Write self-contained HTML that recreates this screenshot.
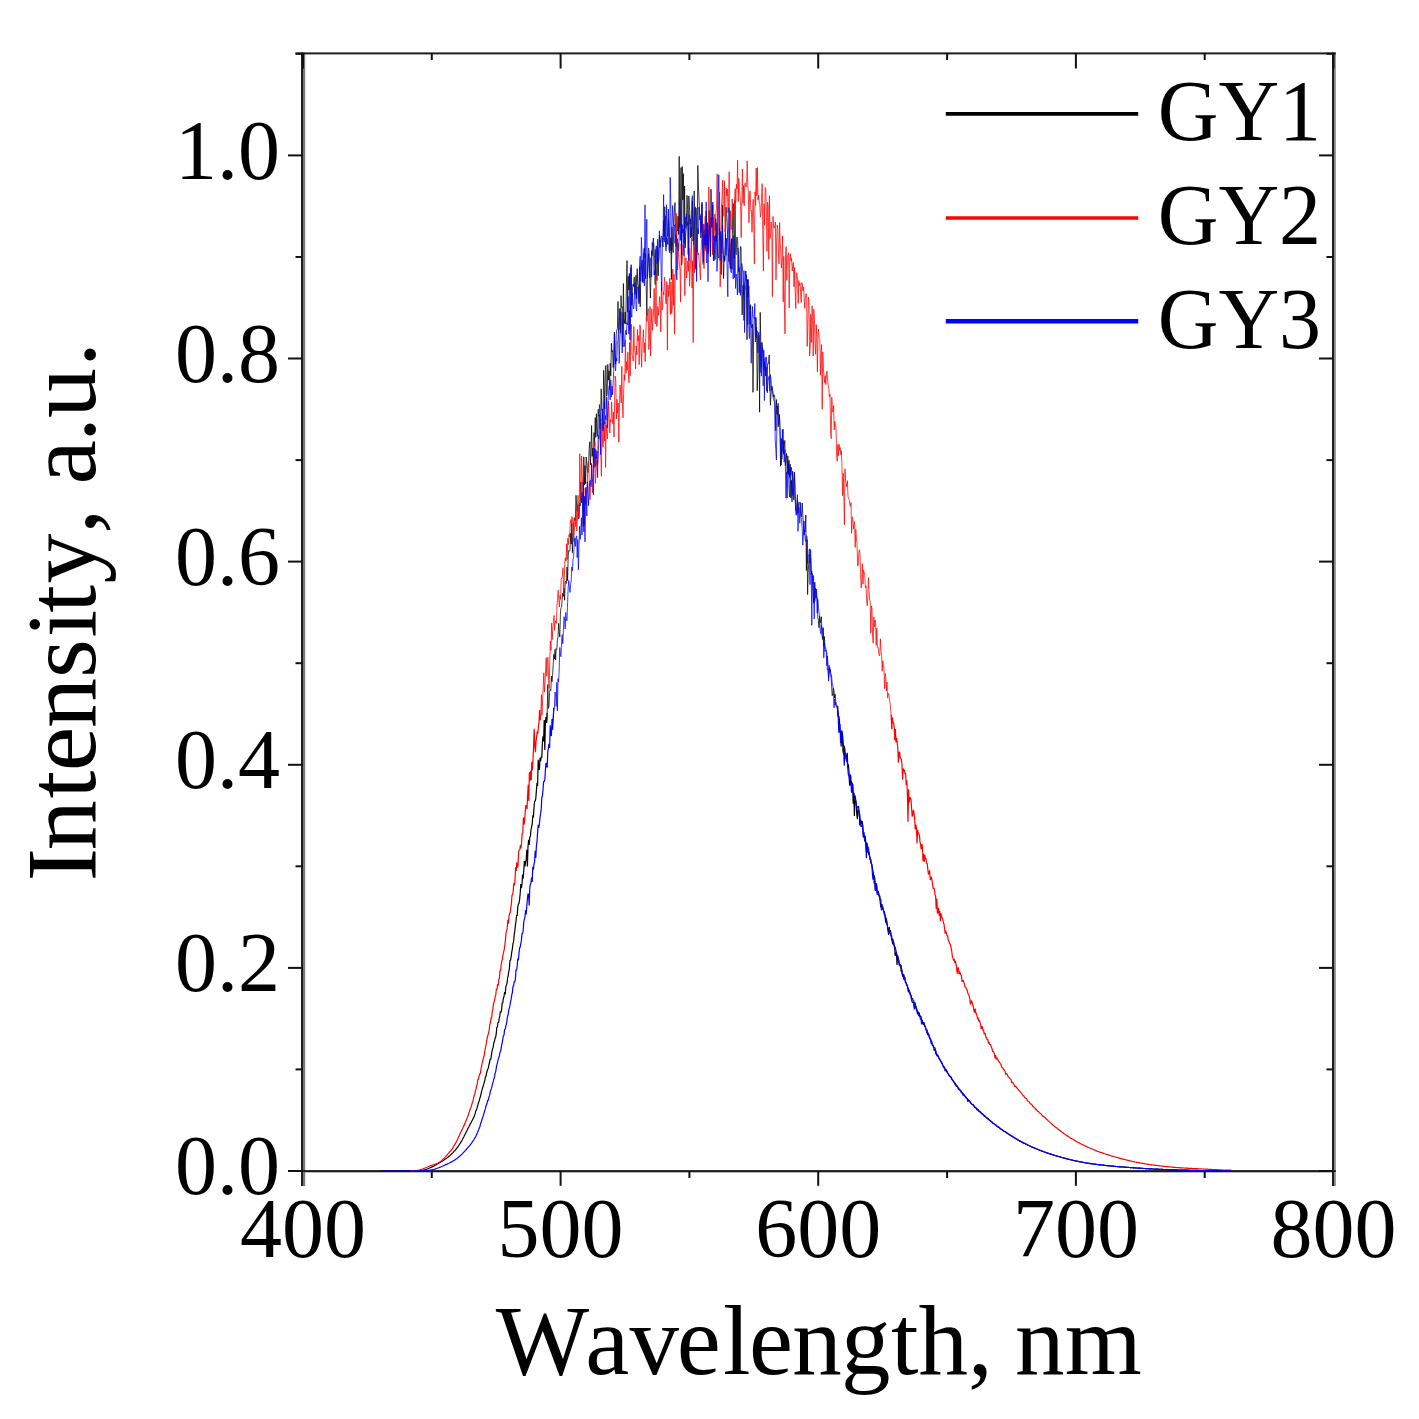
<!DOCTYPE html>
<html><head><meta charset="utf-8"><style>
html,body{margin:0;padding:0;background:#fff;width:1419px;height:1419px;overflow:hidden}
svg{display:block}
text{font-family:"Liberation Serif", serif;fill:#000}
</style></head><body>
<svg width="1419" height="1419" viewBox="0 0 1419 1419">
<rect width="1419" height="1419" fill="#fff"/>
<rect x="305" y="1172" width="1027" height="1" fill="#bbb"/>
<rect x="301" y="52.5" width="2" height="1133.5" fill="#1e1e1e"/>
<rect x="303" y="52.5" width="2.2" height="1133.5" fill="#777"/>
<rect x="1332" y="52.5" width="2" height="1133.5" fill="#1e1e1e"/>
<rect x="1334" y="52.5" width="1.8" height="1133.5" fill="#888"/>
<rect x="295.5" y="52.4" width="1040.3" height="2" fill="#1e1e1e"/>
<rect x="288" y="1170.1" width="1047.8" height="1.9" fill="#1a1a1a"/>
<g>
<line x1="288" y1="1171.0" x2="303" y2="1171.0" stroke="#111" stroke-width="2"/><line x1="1319" y1="1171.0" x2="1333" y2="1171.0" stroke="#111" stroke-width="2"/><line x1="295.5" y1="1069.4" x2="303" y2="1069.4" stroke="#111" stroke-width="2"/><line x1="1326.5" y1="1069.4" x2="1333" y2="1069.4" stroke="#111" stroke-width="2"/><line x1="288" y1="967.9" x2="303" y2="967.9" stroke="#111" stroke-width="2"/><line x1="1319" y1="967.9" x2="1333" y2="967.9" stroke="#111" stroke-width="2"/><line x1="295.5" y1="866.3" x2="303" y2="866.3" stroke="#111" stroke-width="2"/><line x1="1326.5" y1="866.3" x2="1333" y2="866.3" stroke="#111" stroke-width="2"/><line x1="288" y1="764.8" x2="303" y2="764.8" stroke="#111" stroke-width="2"/><line x1="1319" y1="764.8" x2="1333" y2="764.8" stroke="#111" stroke-width="2"/><line x1="295.5" y1="663.2" x2="303" y2="663.2" stroke="#111" stroke-width="2"/><line x1="1326.5" y1="663.2" x2="1333" y2="663.2" stroke="#111" stroke-width="2"/><line x1="288" y1="561.6" x2="303" y2="561.6" stroke="#111" stroke-width="2"/><line x1="1319" y1="561.6" x2="1333" y2="561.6" stroke="#111" stroke-width="2"/><line x1="295.5" y1="460.1" x2="303" y2="460.1" stroke="#111" stroke-width="2"/><line x1="1326.5" y1="460.1" x2="1333" y2="460.1" stroke="#111" stroke-width="2"/><line x1="288" y1="358.5" x2="303" y2="358.5" stroke="#111" stroke-width="2"/><line x1="1319" y1="358.5" x2="1333" y2="358.5" stroke="#111" stroke-width="2"/><line x1="295.5" y1="257.0" x2="303" y2="257.0" stroke="#111" stroke-width="2"/><line x1="1326.5" y1="257.0" x2="1333" y2="257.0" stroke="#111" stroke-width="2"/><line x1="288" y1="155.4" x2="303" y2="155.4" stroke="#111" stroke-width="2"/><line x1="1319" y1="155.4" x2="1333" y2="155.4" stroke="#111" stroke-width="2"/><line x1="295.5" y1="53.8" x2="303" y2="53.8" stroke="#111" stroke-width="2"/><line x1="1326.5" y1="53.8" x2="1333" y2="53.8" stroke="#111" stroke-width="2"/><line x1="303.0" y1="53" x2="303.0" y2="68.5" stroke="#111" stroke-width="2"/><line x1="431.8" y1="1171" x2="431.8" y2="1178" stroke="#111" stroke-width="2"/><line x1="431.8" y1="53" x2="431.8" y2="60" stroke="#111" stroke-width="2"/><line x1="560.6" y1="1171" x2="560.6" y2="1185.8" stroke="#111" stroke-width="2"/><line x1="560.6" y1="53" x2="560.6" y2="68.5" stroke="#111" stroke-width="2"/><line x1="689.4" y1="1171" x2="689.4" y2="1178" stroke="#111" stroke-width="2"/><line x1="689.4" y1="53" x2="689.4" y2="60" stroke="#111" stroke-width="2"/><line x1="818.2" y1="1171" x2="818.2" y2="1185.8" stroke="#111" stroke-width="2"/><line x1="818.2" y1="53" x2="818.2" y2="68.5" stroke="#111" stroke-width="2"/><line x1="947.1" y1="1171" x2="947.1" y2="1178" stroke="#111" stroke-width="2"/><line x1="947.1" y1="53" x2="947.1" y2="60" stroke="#111" stroke-width="2"/><line x1="1075.9" y1="1171" x2="1075.9" y2="1185.8" stroke="#111" stroke-width="2"/><line x1="1075.9" y1="53" x2="1075.9" y2="68.5" stroke="#111" stroke-width="2"/><line x1="1204.7" y1="1171" x2="1204.7" y2="1178" stroke="#111" stroke-width="2"/><line x1="1204.7" y1="53" x2="1204.7" y2="60" stroke="#111" stroke-width="2"/><line x1="1333.5" y1="53" x2="1333.5" y2="68.5" stroke="#111" stroke-width="2"/>
</g>
<g fill="none" stroke-linejoin="bevel">
<polyline points="381.0,1171.0 381.6,1171.0 382.2,1171.0 382.8,1171.0 383.4,1171.0 384.0,1171.0 384.6,1171.0 385.2,1171.0 385.8,1171.0 386.4,1171.0 387.0,1171.0 387.6,1171.0 388.2,1171.0 388.8,1171.0 389.4,1171.0 390.0,1171.0 390.6,1171.0 391.2,1171.0 391.8,1171.0 392.4,1171.0 393.0,1171.0 393.6,1171.0 394.2,1171.0 394.8,1171.0 395.4,1171.0 396.0,1171.0 396.6,1171.0 397.2,1171.0 397.8,1171.0 398.4,1171.0 399.0,1171.0 399.6,1171.0 400.2,1171.0 400.8,1171.0 401.4,1171.0 402.0,1171.0 402.6,1171.0 403.2,1171.0 403.8,1171.0 404.4,1171.0 405.0,1171.0 405.6,1171.0 406.2,1171.0 406.8,1171.0 407.4,1171.0 408.0,1171.0 408.6,1171.0 409.2,1171.0 409.8,1171.0 410.4,1170.9 411.0,1170.9 411.6,1170.9 412.2,1170.9 412.8,1170.9 413.4,1170.9 414.0,1170.9 414.6,1170.9 415.2,1170.9 415.8,1170.9 416.4,1170.9 417.0,1170.9 417.6,1170.9 418.2,1170.8 418.8,1170.8 419.4,1170.8 420.0,1170.7 420.6,1170.7 421.2,1170.6 421.8,1170.5 422.4,1170.4 423.0,1170.3 423.6,1170.1 424.2,1170.0 424.8,1169.8 425.4,1169.6 426.0,1169.4 426.6,1169.2 427.2,1169.0 427.8,1168.8 428.4,1168.6 429.0,1168.3 429.6,1168.0 430.2,1167.8 430.8,1167.5 431.4,1167.2 432.0,1166.9 432.6,1166.6 433.2,1166.3 433.8,1166.0 434.4,1165.6 435.0,1165.3 435.6,1165.0 436.2,1164.6 436.8,1164.3 437.4,1163.9 438.0,1163.6 438.6,1163.2 439.2,1162.9 439.8,1162.5 440.4,1162.2 441.0,1161.8 441.6,1161.5 442.2,1161.1 442.8,1160.8 443.4,1160.4 444.0,1160.0 444.6,1159.6 445.2,1159.2 445.8,1158.8 446.4,1158.4 447.0,1157.9 447.6,1157.5 448.2,1157.0 448.8,1156.5 449.4,1156.0 450.0,1155.5 450.6,1154.9 451.2,1154.4 451.8,1153.7 452.4,1153.2 453.0,1152.6 453.6,1151.8 454.2,1151.1 454.8,1150.7 455.4,1150.1 456.0,1149.1 456.6,1148.3 457.2,1147.7 457.8,1146.8 458.4,1146.0 459.0,1145.1 459.6,1144.3 460.2,1143.3 460.8,1142.4 461.4,1141.4 462.0,1140.2 462.6,1139.2 463.2,1138.0 463.8,1137.0 464.4,1135.6 465.0,1134.4 465.6,1133.5 466.2,1132.1 466.8,1130.8 467.4,1129.7 468.0,1128.3 468.6,1127.2 469.2,1126.2 469.8,1125.1 470.4,1123.4 471.0,1123.0 471.6,1121.6 472.2,1120.4 472.8,1119.2 473.4,1118.0 474.0,1117.2 474.6,1114.9 475.2,1113.7 475.8,1110.6 476.4,1110.0 477.0,1108.4 477.6,1105.9 478.2,1103.7 478.8,1101.9 479.4,1100.2 480.0,1097.7 480.6,1096.1 481.2,1093.2 481.8,1090.7 482.4,1088.7 483.0,1086.6 483.6,1084.7 484.2,1082.4 484.8,1080.3 485.4,1077.0 486.0,1076.3 486.6,1073.2 487.2,1070.5 487.8,1069.4 488.4,1067.6 489.0,1064.7 489.6,1062.0 490.2,1058.8 490.8,1059.5 491.4,1055.4 492.0,1051.2 492.6,1048.9 493.2,1047.1 493.8,1042.9 494.4,1041.8 495.0,1038.4 495.6,1037.3 496.2,1034.2 496.8,1027.1 497.4,1027.2 498.0,1022.3 498.6,1022.7 499.2,1018.6 499.8,1016.2 500.4,1011.2 501.0,1012.4 501.6,1010.0 502.2,1002.9 502.8,1003.0 503.4,998.2 504.0,996.6 504.6,992.0 505.2,994.4 505.8,986.9 506.4,985.1 507.0,983.5 507.6,978.2 508.2,975.6 508.8,971.5 509.4,968.3 510.0,960.3 510.6,960.1 511.2,956.4 511.8,951.9 512.4,948.5 513.0,943.4 513.6,941.6 514.2,934.7 514.8,930.9 515.4,925.2 516.0,921.4 516.6,915.1 517.2,915.9 517.8,907.1 518.4,904.1 519.0,903.4 519.6,899.6 520.2,893.2 520.8,884.1 521.4,888.1 522.0,883.9 522.6,874.6 523.2,878.5 523.8,869.9 524.4,861.0 525.0,866.4 525.6,861.8 526.2,859.9 526.8,849.8 527.4,866.6 528.0,846.9 528.6,839.8 529.2,844.9 529.8,837.3 530.4,836.4 531.0,829.7 531.6,826.8 532.2,824.0 532.8,815.3 533.4,817.4 534.0,807.7 534.6,801.2 535.2,801.2 535.8,798.5 536.4,790.6 537.0,782.9 537.6,786.1 538.2,759.8 538.8,768.5 539.4,770.0 540.0,757.9 540.6,761.3 541.2,756.6 541.8,757.8 542.4,742.8 543.0,736.4 543.6,741.5 544.2,719.9 544.8,750.1 545.4,721.7 546.0,717.0 546.6,723.0 547.2,712.7" stroke="#000" stroke-width="1.2"/>
<polyline points="546.6,723.0 547.2,712.7 547.8,684.5 548.4,708.5 549.0,705.9 549.6,692.5 550.2,689.4 550.8,690.6 551.4,676.1 552.0,681.7 552.6,675.6 553.2,664.5 553.8,654.4 554.4,659.0 555.0,649.4 555.6,659.9 556.2,648.6 556.8,649.5 557.4,639.9 558.0,636.6 558.6,623.4 559.2,631.5 559.8,637.1 560.4,614.3 561.0,607.4 561.6,606.9 562.2,599.5 562.8,593.0 563.4,596.4 564.0,588.0 564.6,600.2 565.2,582.2 565.8,581.2 566.4,583.4 567.0,567.0 567.6,580.7 568.2,556.0 568.8,550.4 569.4,551.3 570.0,550.3 570.6,533.2 571.2,544.1 571.8,523.2 572.4,552.8 573.0,533.5 573.6,524.1 574.2,517.9 574.8,520.6 575.4,519.4 576.0,495.3 576.6,505.7 577.2,511.2 577.8,504.7 578.4,518.9 579.0,518.7 579.6,503.0 580.2,505.9 580.8,481.9 581.4,502.8 582.0,492.3 582.6,495.9 583.2,526.3 583.8,456.8 584.4,485.1 585.0,465.6 585.6,483.7 586.2,457.0 586.8,464.4 587.4,470.3 588.0,472.6 588.6,462.9 589.2,448.8 589.8,441.8 590.4,464.9 591.0,450.5 591.6,425.5 592.2,456.3 592.8,448.0 593.4,463.3 594.0,432.6 594.6,445.9 595.2,417.6 595.8,437.4 596.4,413.6 597.0,433.9 597.6,436.1 598.2,409.2 598.8,416.2 599.4,414.9 600.0,428.7 600.6,419.2 601.2,388.8 601.8,410.2 602.4,411.6 603.0,429.0 603.6,370.4 604.2,384.3 604.8,409.1 605.4,366.1 606.0,365.4 606.6,396.1 607.2,393.0 607.8,364.4 608.4,380.1 609.0,370.7 609.6,389.6 610.2,363.1 610.8,375.9 611.4,343.3 612.0,351.8 612.6,350.5 613.2,367.6 613.8,356.0 614.4,332.0 615.0,352.7 615.6,364.2 616.2,334.8 616.8,330.0 617.4,328.7 618.0,301.5 618.6,330.5 619.2,329.1 619.8,308.5 620.4,333.4 621.0,295.6 621.6,307.5 622.2,306.7 622.8,346.8 623.4,283.5 624.0,318.7 624.6,323.5 625.2,312.0 625.8,324.2 626.4,284.5 627.0,260.5 627.6,312.2 628.2,276.2 628.8,290.0 629.4,273.5 630.0,330.1 630.6,306.9 631.2,264.7 631.8,305.1 632.4,290.0 633.0,284.2 633.6,286.6 634.2,277.2 634.8,294.5 635.4,288.1 636.0,275.2 636.6,298.7 637.2,268.6 637.8,283.9 638.4,285.5 639.0,303.8 639.6,266.8 640.2,306.9 640.8,277.5 641.4,269.8 642.0,260.1 642.6,282.3 643.2,271.5 643.8,249.4 644.4,247.9 645.0,257.5 645.6,254.2 646.2,285.9 646.8,315.7 647.4,279.7 648.0,269.2 648.6,253.5 649.2,261.4 649.8,275.8 650.4,298.1 651.0,274.2 651.6,250.7 652.2,255.6 652.8,244.7 653.4,238.0 654.0,248.2 654.6,258.1 655.2,284.6 655.8,249.7 656.4,273.6 657.0,280.6 657.6,247.4 658.2,275.8 658.8,257.8 659.4,235.2 660.0,247.5 660.6,242.0 661.2,236.3 661.8,236.2 662.4,242.0 663.0,246.9 663.6,220.6 664.2,236.8 664.8,206.7 665.4,240.7 666.0,247.1 666.6,237.5 667.2,239.2 667.8,244.5 668.4,219.4 669.0,227.1 669.6,251.2 670.2,250.2 670.8,237.7 671.4,279.5 672.0,227.0 672.6,247.9 673.2,252.6 673.8,224.5 674.4,210.4 675.0,202.7 675.6,228.8 676.2,247.0 676.8,230.0 677.4,231.0 678.0,216.2 678.6,234.4 679.2,156.3 679.8,227.2 680.4,222.9 681.0,167.6 681.6,265.1 682.2,166.5 682.8,200.1 683.4,173.7 684.0,243.4 684.6,186.0 685.2,247.9 685.8,233.0 686.4,226.5 687.0,195.3 687.6,209.2 688.2,254.8 688.8,195.9 689.4,205.1 690.0,218.5 690.6,237.9 691.2,227.0 691.8,236.8 692.4,201.0 693.0,241.1 693.6,233.8 694.2,191.0 694.8,253.4 695.4,268.5 696.0,208.0 696.6,225.7 697.2,251.5 697.8,165.4 698.4,185.0 699.0,199.0 699.6,213.8 700.2,214.0 700.8,237.8 701.4,231.6 702.0,202.1 702.6,238.3 703.2,264.5 703.8,251.6 704.4,248.0 705.0,229.4 705.6,248.8 706.2,211.0 706.8,245.1 707.4,229.1 708.0,253.4 708.6,240.8 709.2,210.8 709.8,235.0 710.4,256.7 711.0,189.2 711.6,222.7 712.2,219.0 712.8,205.2 713.4,253.5 714.0,260.6 714.6,251.0 715.2,240.6 715.8,235.2 716.4,241.2 717.0,222.8 717.6,254.7 718.2,258.1 718.8,256.3 719.4,228.4 720.0,240.6 720.6,236.4 721.2,274.6 721.8,244.1 722.4,204.9 723.0,257.1 723.6,278.5 724.2,256.1 724.8,260.5 725.4,244.9 726.0,207.1 726.6,211.0 727.2,222.5 727.8,244.7 728.4,253.8 729.0,261.8 729.6,243.0 730.2,268.5 730.8,246.0 731.4,238.8 732.0,269.2 732.6,219.6 733.2,203.7 733.8,236.2 734.4,259.0 735.0,200.6 735.6,252.9 736.2,254.7 736.8,236.9 737.4,237.8 738.0,249.1 738.6,257.0 739.2,292.6 739.8,276.4 740.4,246.5 741.0,246.9 741.6,288.2 742.2,314.9 742.8,285.2 743.4,285.5 744.0,320.5 744.6,282.6 745.2,281.4 745.8,271.0 746.4,283.8 747.0,339.7 747.6,279.6 748.2,296.9 748.8,285.8 749.4,304.5 750.0,324.2 750.6,304.6 751.2,325.6 751.8,327.8 752.4,324.1 753.0,392.3 753.6,336.0 754.2,318.6 754.8,317.7 755.4,318.5 756.0,338.0 756.6,327.2 757.2,390.7 757.8,373.6 758.4,334.6 759.0,335.8 759.6,412.2 760.2,312.4 760.8,341.5 761.4,367.3 762.0,342.5 762.6,348.3 763.2,351.6 763.8,370.3 764.4,361.9 765.0,369.7 765.6,376.0 766.2,367.0 766.8,391.2 767.4,365.9 768.0,363.2 768.6,363.3 769.2,355.0 769.8,378.2 770.4,405.2 771.0,394.8 771.6,386.6 772.2,386.1 772.8,393.1 773.4,397.0 774.0,394.7 774.6,395.6 775.2,405.5 775.8,430.7 776.4,399.5 777.0,414.4 777.6,405.8 778.2,426.7 778.8,421.0 779.4,414.6 780.0,433.3 780.6,466.2 781.2,438.4 781.8,459.2 782.4,440.8 783.0,429.1 783.6,454.2 784.2,445.2 784.8,440.5 785.4,465.7 786.0,459.4 786.6,453.4 787.2,473.6 787.8,455.8 788.4,474.5 789.0,460.2 789.6,477.4 790.2,464.2 790.8,497.8 791.4,480.3 792.0,501.8 792.6,471.2 793.2,481.0 793.8,499.8 794.4,472.5 795.0,485.3 795.6,510.4 796.2,511.3 796.8,514.5 797.4,500.2 798.0,513.2 798.6,503.0 799.2,501.9 799.8,502.6 800.4,511.8 801.0,514.5 801.6,516.7 802.2,503.0 802.8,514.4 803.4,525.3 804.0,535.1 804.6,530.6 805.2,531.8 805.8,515.1 806.4,570.5 807.0,539.4 807.6,594.5 808.2,572.6 808.8,561.9 809.4,554.7 810.0,562.7 810.6,558.4 811.2,574.4 811.8,571.0 812.4,581.2 813.0,590.0 813.6,603.2 814.2,582.9 814.8,601.3 815.4,588.1 816.0,591.1 816.6,596.0 817.2,597.8 817.8,617.5 818.4,620.2 819.0,627.7 819.6,616.2 820.2,622.9 820.8,620.7 821.4,616.8 822.0,635.1 822.6,639.5 823.2,627.7 823.8,646.7 824.4,636.5 825.0,646.3 825.6,647.8 826.2,651.5 826.8,652.5 827.4,669.8 828.0,668.9 828.6,678.2 829.2,670.7 829.8,667.5 830.4,674.0 831.0,674.0 831.6,685.7 832.2,695.7 832.8,693.2 833.4,688.1 834.0,690.5 834.6,698.0 835.2,694.2 835.8,703.6 836.4,707.2 837.0,706.9 837.6,710.6 838.2,716.7" stroke="#000" stroke-width="0.75"/>
<polyline points="837.6,710.6 838.2,716.7 838.8,716.1 839.4,719.6 840.0,732.2 840.6,731.1 841.2,746.5 841.8,730.4 842.4,734.7 843.0,750.8 843.6,754.3 844.2,745.9 844.8,749.2 845.4,756.4 846.0,754.5 846.6,761.3 847.2,752.8 847.8,767.0 848.4,764.4 849.0,772.1 849.6,785.6 850.2,777.0 850.8,785.4 851.4,781.1 852.0,783.0 852.6,784.1 853.2,803.7 853.8,792.9 854.4,816.1 855.0,795.4 855.6,799.7 856.2,803.7 856.8,814.4 857.4,819.3 858.0,809.3 858.6,810.6 859.2,811.6 859.8,825.5 860.4,819.9 861.0,820.9 861.6,824.4 862.2,821.2 862.8,825.3 863.4,836.2 864.0,835.4 864.6,836.3 865.2,835.9 865.8,843.3 866.4,851.9 867.0,842.8 867.6,847.7 868.2,849.4 868.8,854.5 869.4,855.4 870.0,857.8 870.6,859.0 871.2,863.3 871.8,864.8 872.4,868.3 873.0,871.1 873.6,876.6 874.2,875.3 874.8,878.3 875.4,890.3 876.0,883.0 876.6,885.9 877.2,892.2 877.8,892.0 878.4,893.6 879.0,896.4 879.6,896.0 880.2,901.8 880.8,907.3 881.4,906.4 882.0,904.1 882.6,909.4 883.2,909.1 883.8,912.0 884.4,914.6 885.0,914.5 885.6,922.6 886.2,919.7 886.8,924.3 887.4,925.6 888.0,929.8 888.6,935.0 889.2,927.1 889.8,931.0 890.4,930.1 891.0,934.1 891.6,938.8 892.2,941.3 892.8,944.4 893.4,942.0 894.0,945.3 894.6,946.6 895.2,955.7 895.8,954.9 896.4,952.0 897.0,965.0 897.6,956.3 898.2,957.9 898.8,961.8 899.4,964.2 900.0,965.5 900.6,965.4 901.2,971.6 901.8,969.9 902.4,975.4 903.0,976.9 903.6,974.1 904.2,976.2 904.8,978.0 905.4,981.2 906.0,982.4 906.6,984.6 907.2,985.1 907.8,988.3 908.4,992.1 909.0,989.6 909.6,992.1 910.2,994.8 910.8,995.2 911.4,996.6 912.0,1001.8 912.6,1002.2 913.2,1002.7 913.8,1001.9 914.4,1008.1 915.0,1006.5 915.6,1006.0 916.2,1007.5 916.8,1008.7 917.4,1014.1 918.0,1012.0 918.6,1013.0 919.2,1012.7 919.8,1016.7 920.4,1016.0 921.0,1016.5 921.6,1020.3 922.2,1020.0 922.8,1023.2 923.4,1024.9 924.0,1022.3 924.6,1025.7 925.2,1026.1 925.8,1028.3 926.4,1031.1 927.0,1029.5 927.6,1035.0 928.2,1033.7 928.8,1034.6 929.4,1036.6 930.0,1039.2 930.6,1038.8 931.2,1041.0 931.8,1041.8 932.4,1045.4 933.0,1045.5 933.6,1046.5 934.2,1050.6 934.8,1048.9 935.4,1050.7 936.0,1054.3 936.6,1053.3 937.2,1056.1 937.8,1056.1 938.4,1056.7 939.0,1058.1 939.6,1059.3 940.2,1060.2 940.8,1061.1 941.4,1062.2 942.0,1062.9 942.6,1064.7 943.2,1065.8 943.8,1067.2 944.4,1066.8 945.0,1069.1 945.6,1069.3 946.2,1069.8 946.8,1071.3 947.4,1072.8 948.0,1073.5 948.6,1074.6 949.2,1075.7 949.8,1076.5 950.4,1076.7 951.0,1076.9 951.6,1078.2 952.2,1079.6 952.8,1080.1 953.4,1081.6 954.0,1082.5 954.6,1082.8 955.2,1085.0 955.8,1083.9 956.4,1086.6 957.0,1086.0 957.6,1086.7 958.2,1088.1 958.8,1088.2 959.4,1089.8 960.0,1089.7 960.6,1090.8 961.2,1091.3 961.8,1092.2 962.4,1092.9 963.0,1093.5 963.6,1094.9 964.2,1094.9 964.8,1095.7 965.4,1097.1 966.0,1097.8 966.6,1098.3 967.2,1098.8 967.8,1101.7 968.4,1099.7 969.0,1100.5 969.6,1101.1 970.2,1102.4 970.8,1102.7 971.4,1103.8 972.0,1104.3 972.6,1104.5 973.2,1104.8 973.8,1105.6 974.4,1107.4 975.0,1107.4 975.6,1107.8 976.2,1108.1 976.8,1108.7 977.4,1109.3 978.0,1109.9 978.6,1110.1 979.2,1111.1 979.8,1111.6 980.4,1112.3 981.0,1112.8 981.6,1113.6 982.2,1113.8 982.8,1114.7 983.4,1114.5 984.0,1115.3 984.6,1116.6 985.2,1116.2 985.8,1117.0 986.4,1117.8 987.0,1117.8 987.6,1118.8 988.2,1118.7 988.8,1119.3 989.4,1119.9 990.0,1120.3 990.6,1121.0 991.2,1121.5 991.8,1122.1 992.4,1122.3 993.0,1123.7 993.6,1123.4 994.2,1123.9 994.8,1124.5 995.4,1124.8 996.0,1125.2 996.6,1125.7 997.2,1126.6 997.8,1126.8 998.4,1127.3 999.0,1127.4 999.6,1127.9 1000.2,1128.9 1000.8,1128.8 1001.4,1129.4 1002.0,1129.8 1002.6,1130.4 1003.2,1130.4 1003.8,1130.9 1004.4,1131.3 1005.0,1131.7 1005.6,1131.9 1006.2,1132.5 1006.8,1132.7 1007.4,1133.4 1008.0,1133.9 1008.6,1134.2 1009.2,1134.4 1009.8,1135.1 1010.4,1135.1 1011.0,1135.6 1011.6,1136.0 1012.2,1136.3 1012.8,1136.8 1013.4,1137.3 1014.0,1137.4 1014.6,1137.8 1015.2,1138.4 1015.8,1138.6 1016.4,1139.0 1017.0,1139.2 1017.6,1139.9 1018.2,1139.9 1018.8,1140.3 1019.4,1140.8 1020.0,1141.5 1020.6,1141.4 1021.2,1141.7 1021.8,1141.9 1022.4,1142.2 1023.0,1142.7 1023.6,1142.9 1024.2,1143.2 1024.8,1143.4 1025.4,1143.8 1026.0,1144.3 1026.6,1144.4 1027.2,1144.7 1027.8,1145.2 1028.4,1145.3 1029.0,1145.5 1029.6,1145.7 1030.2,1146.1 1030.8,1146.4 1031.4,1146.8 1032.0,1146.9 1032.6,1147.4 1033.2,1147.4 1033.8,1147.7 1034.4,1148.1 1035.0,1148.2 1035.6,1148.5 1036.2,1148.8 1036.8,1149.0 1037.4,1149.2 1038.0,1149.5 1038.6,1149.7 1039.2,1150.0 1039.8,1150.3 1040.4,1150.4 1041.0,1150.7 1041.6,1150.9 1042.2,1151.2 1042.8,1151.3 1043.4,1151.7 1044.0,1151.8 1044.6,1152.1 1045.2,1152.2 1045.8,1152.4 1046.4,1152.7 1047.0,1153.0 1047.6,1153.1 1048.2,1153.2 1048.8,1153.5 1049.4,1153.6 1050.0,1153.8 1050.6,1154.1 1051.2,1154.2 1051.8,1154.5 1052.4,1154.6 1053.0,1154.8 1053.6,1155.1 1054.2,1155.2 1054.8,1155.4 1055.4,1155.5 1056.0,1155.8 1056.6,1155.9 1057.2,1156.1 1057.8,1156.3 1058.4,1156.5 1059.0,1156.6 1059.6,1156.8 1060.2,1157.0 1060.8,1157.1 1061.4,1157.4 1062.0,1157.5 1062.6,1157.8 1063.2,1157.8 1063.8,1158.0 1064.4,1158.2 1065.0,1158.3 1065.6,1158.4 1066.2,1158.6 1066.8,1158.8 1067.4,1158.9 1068.0,1159.1 1068.6,1159.2 1069.2,1159.4 1069.8,1159.6 1070.4,1159.7 1071.0,1159.8 1071.6,1160.0 1072.2,1160.1 1072.8,1160.2 1073.4,1160.5 1074.0,1160.5 1074.6,1160.7 1075.2,1160.8 1075.8,1160.9 1076.4,1161.0 1077.0,1161.2 1077.6,1161.3 1078.2,1161.4 1078.8,1161.6 1079.4,1161.7 1080.0,1161.8 1080.6,1161.9 1081.2,1162.0 1081.8,1162.1 1082.4,1162.2 1083.0,1162.3 1083.6,1162.5 1084.2,1162.5 1084.8,1162.7 1085.4,1162.8 1086.0,1162.9 1086.6,1163.0 1087.2,1163.1 1087.8,1163.2 1088.4,1163.3 1089.0,1163.4 1089.6,1163.4 1090.2,1163.6 1090.8,1163.6 1091.4,1163.7 1092.0,1163.8 1092.6,1163.9 1093.2,1164.0 1093.8,1164.1 1094.4,1164.1 1095.0,1164.2 1095.6,1164.3 1096.2,1164.4 1096.8,1164.5 1097.4,1164.6 1098.0,1164.6 1098.6,1164.7 1099.2,1164.7 1099.8,1164.8 1100.4,1164.9 1101.0,1165.0 1101.6,1165.0 1102.2,1165.1 1102.8,1165.2 1103.4,1165.2 1104.0,1165.3 1104.6,1165.4 1105.2,1165.4 1105.8,1165.5 1106.4,1165.6 1107.0,1165.6 1107.6,1165.7 1108.2,1165.7 1108.8,1165.8 1109.4,1165.9 1110.0,1165.9 1110.6,1166.0 1111.2,1166.0 1111.8,1166.1 1112.4,1166.1 1113.0,1166.2 1113.6,1166.3 1114.2,1166.3 1114.8,1166.4 1115.4,1166.4 1116.0,1166.5 1116.6,1166.5 1117.2,1166.6 1117.8,1166.6 1118.4,1166.7 1119.0,1166.7 1119.6,1166.8 1120.2,1166.8 1120.8,1166.9 1121.4,1166.9 1122.0,1167.0 1122.6,1167.0 1123.2,1167.0 1123.8,1167.1 1124.4,1167.1 1125.0,1167.2 1125.6,1167.2 1126.2,1167.3 1126.8,1167.3 1127.4,1167.4 1128.0,1167.4 1128.6,1167.4 1129.2,1167.5 1129.8,1167.5 1130.4,1167.6 1131.0,1167.6 1131.6,1167.7 1132.2,1167.7 1132.8,1167.7 1133.4,1167.8 1134.0,1167.8 1134.6,1167.9 1135.2,1167.9 1135.8,1168.0 1136.4,1168.0 1137.0,1168.0 1137.6,1168.1 1138.2,1168.1 1138.8,1168.1 1139.4,1168.2 1140.0,1168.2 1140.6,1168.3 1141.2,1168.3 1141.8,1168.3 1142.4,1168.4 1143.0,1168.4 1143.6,1168.5 1144.2,1168.5 1144.8,1168.5 1145.4,1168.6 1146.0,1168.6 1146.6,1168.6 1147.2,1168.7 1147.8,1168.7 1148.4,1168.7 1149.0,1168.8 1149.6,1168.8 1150.2,1168.8 1150.8,1168.9 1151.4,1168.9 1152.0,1168.9 1152.6,1169.0 1153.2,1169.0 1153.8,1169.0 1154.4,1169.1 1155.0,1169.1 1155.6,1169.1 1156.2,1169.2 1156.8,1169.2 1157.4,1169.2 1158.0,1169.2 1158.6,1169.3 1159.2,1169.3 1159.8,1169.3 1160.4,1169.3 1161.0,1169.4 1161.6,1169.4 1162.2,1169.4 1162.8,1169.4 1163.4,1169.5 1164.0,1169.5 1164.6,1169.5 1165.2,1169.5 1165.8,1169.6 1166.4,1169.6 1167.0,1169.6 1167.6,1169.6 1168.2,1169.7 1168.8,1169.7 1169.4,1169.7 1170.0,1169.7 1170.6,1169.7 1171.2,1169.8 1171.8,1169.8 1172.4,1169.8 1173.0,1169.8 1173.6,1169.8 1174.2,1169.8 1174.8,1169.9 1175.4,1169.9 1176.0,1169.9 1176.6,1169.9 1177.2,1169.9 1177.8,1170.0 1178.4,1170.0 1179.0,1170.0 1179.6,1170.0 1180.2,1170.0 1180.8,1170.0 1181.4,1170.1 1182.0,1170.1 1182.6,1170.1 1183.2,1170.1 1183.8,1170.1 1184.4,1170.1 1185.0,1170.2 1185.6,1170.2 1186.2,1170.2 1186.8,1170.2 1187.4,1170.2 1188.0,1170.2 1188.6,1170.2 1189.2,1170.3 1189.8,1170.3 1190.4,1170.3 1191.0,1170.3 1191.6,1170.3 1192.2,1170.3 1192.8,1170.3 1193.4,1170.3 1194.0,1170.4 1194.6,1170.4 1195.2,1170.4 1195.8,1170.4 1196.4,1170.4 1197.0,1170.4 1197.6,1170.4 1198.2,1170.5 1198.8,1170.5 1199.4,1170.5 1200.0,1170.5 1200.6,1170.5 1201.2,1170.5 1201.8,1170.5 1202.4,1170.5 1203.0,1170.5 1203.6,1170.6 1204.2,1170.6 1204.8,1170.6 1205.4,1170.6 1206.0,1170.6 1206.6,1170.6 1207.2,1170.6 1207.8,1170.6 1208.4,1170.6 1209.0,1170.7 1209.6,1170.7 1210.2,1170.7 1210.8,1170.7 1211.4,1170.7 1212.0,1170.7 1212.6,1170.7 1213.2,1170.7 1213.8,1170.7 1214.4,1170.7 1215.0,1170.8 1215.6,1170.8 1216.2,1170.8 1216.8,1170.8 1217.4,1170.8 1218.0,1170.8 1218.6,1170.8 1219.2,1170.8 1219.8,1170.8 1220.4,1170.8 1221.0,1170.8 1221.6,1170.8 1222.2,1170.9 1222.8,1170.9 1223.4,1170.9 1224.0,1170.9 1224.6,1170.9 1225.2,1170.9 1225.8,1170.9 1226.4,1170.9 1227.0,1170.9 1227.6,1170.9 1228.2,1170.9 1228.8,1170.9 1229.4,1170.9 1230.0,1170.9 1230.6,1170.9 1231.2,1170.9 1231.8,1170.9" stroke="#000" stroke-width="1.2"/>
<polyline points="410.0,1171.0 410.6,1171.0 411.2,1170.9 411.8,1170.9 412.4,1170.9 413.0,1170.9 413.6,1170.8 414.2,1170.8 414.8,1170.8 415.4,1170.7 416.0,1170.7 416.6,1170.6 417.2,1170.5 417.8,1170.4 418.4,1170.3 419.0,1170.1 419.6,1170.0 420.2,1169.8 420.8,1169.6 421.4,1169.4 422.0,1169.2 422.6,1169.0 423.2,1168.8 423.8,1168.5 424.4,1168.3 425.0,1168.0 425.6,1167.8 426.2,1167.5 426.8,1167.3 427.4,1167.0 428.0,1166.8 428.6,1166.5 429.2,1166.3 429.8,1166.1 430.4,1165.8 431.0,1165.6 431.6,1165.4 432.2,1165.2 432.8,1165.0 433.4,1164.8 434.0,1164.6 434.6,1164.4 435.2,1164.2 435.8,1164.0 436.4,1163.8 437.0,1163.5 437.6,1163.2 438.2,1163.0 438.8,1162.5 439.4,1162.3 440.0,1161.8 440.6,1161.4 441.2,1160.9 441.8,1160.4 442.4,1159.8 443.0,1159.3 443.6,1158.7 444.2,1158.1 444.8,1157.4 445.4,1156.8 446.0,1156.2 446.6,1155.5 447.2,1154.9 447.8,1154.2 448.4,1153.5 449.0,1152.7 449.6,1152.0 450.2,1151.2 450.8,1150.7 451.4,1149.8 452.0,1149.1 452.6,1148.1 453.2,1147.1 453.8,1146.3 454.4,1145.2 455.0,1144.1 455.6,1143.0 456.2,1142.1 456.8,1140.8 457.4,1139.7 458.0,1138.3 458.6,1136.9 459.2,1135.9 459.8,1134.4 460.4,1133.0 461.0,1131.8 461.6,1130.3 462.2,1129.4 462.8,1128.2 463.4,1126.6 464.0,1125.7 464.6,1124.0 465.2,1122.8 465.8,1121.0 466.4,1120.0 467.0,1118.6 467.6,1116.9 468.2,1115.2 468.8,1113.5 469.4,1111.7 470.0,1109.7 470.6,1108.2 471.2,1106.5 471.8,1104.6 472.4,1102.4 473.0,1101.0 473.6,1098.0 474.2,1095.4 474.8,1094.2 475.4,1090.5 476.0,1089.2 476.6,1085.8 477.2,1084.2 477.8,1079.3 478.4,1079.7 479.0,1076.6 479.6,1073.7 480.2,1074.1 480.8,1070.4 481.4,1066.8 482.0,1063.7 482.6,1061.6 483.2,1058.7 483.8,1056.8 484.4,1054.1 485.0,1049.9 485.6,1047.0 486.2,1044.0 486.8,1040.1 487.4,1037.0 488.0,1035.0 488.6,1032.6 489.2,1030.1 489.8,1024.3 490.4,1022.6 491.0,1018.1 491.6,1018.1 492.2,1012.1 492.8,1009.7 493.4,1004.6 494.0,1001.7 494.6,1000.3 495.2,996.5 495.8,994.8 496.4,988.8 497.0,989.6 497.6,984.1 498.2,985.7 498.8,979.1 499.4,978.5 500.0,970.6 500.6,970.7 501.2,964.6 501.8,960.8 502.4,959.2 503.0,954.7 503.6,952.2 504.2,949.6 504.8,945.6 505.4,940.1 506.0,933.2 506.6,930.8 507.2,928.6 507.8,919.8 508.4,923.6 509.0,916.5 509.6,913.3 510.2,912.8 510.8,908.1 511.4,903.5 512.0,895.0 512.6,895.0 513.2,891.1 513.8,883.0 514.4,885.4 515.0,879.7 515.6,867.3 516.2,870.9 516.8,862.3 517.4,867.5 518.0,865.9 518.6,852.3 519.2,849.7 519.8,850.0 520.4,845.1 521.0,848.5 521.6,841.6 522.2,833.4 522.8,833.0 523.4,817.4 524.0,824.7 524.6,821.4 525.2,812.1 525.8,805.1 526.4,806.6 527.0,808.9 527.6,795.9 528.2,784.8 528.8,801.1 529.4,772.2 530.0,780.6 530.6,770.9 531.2,780.3 531.8,761.7 532.4,770.1 533.0,760.7 533.6,745.4 534.2,728.7 534.8,746.2 535.4,752.1 536.0,741.4 536.6,737.2 537.2,731.4 537.8,733.6 538.4,727.3 539.0,722.6 539.6,710.1 540.2,720.2" stroke="#f00" stroke-width="1.2"/>
<polyline points="539.6,710.1 540.2,720.2 540.8,717.2 541.4,694.7 542.0,715.3 542.6,700.1 543.2,687.3 543.8,672.8 544.4,692.2 545.0,682.8 545.6,670.4 546.2,657.6 546.8,676.4 547.4,659.8 548.0,657.3 548.6,680.3 549.2,688.5 549.8,659.1 550.4,640.9 551.0,650.4 551.6,623.1 552.2,639.6 552.8,629.1 553.4,621.4 554.0,615.5 554.6,630.3 555.2,623.3 555.8,620.7 556.4,623.5 557.0,605.2 557.6,598.4 558.2,590.2 558.8,600.1 559.4,607.0 560.0,595.4 560.6,599.5 561.2,578.9 561.8,577.8 562.4,576.0 563.0,567.7 563.6,594.7 564.2,581.3 564.8,561.5 565.4,557.8 566.0,561.4 566.6,543.7 567.2,559.6 567.8,538.2 568.4,544.6 569.0,534.5 569.6,537.2 570.2,525.1 570.8,519.7 571.4,523.6 572.0,516.6 572.6,522.6 573.2,527.6 573.8,541.6 574.4,531.5 575.0,517.5 575.6,526.6 576.2,508.5 576.8,531.1 577.4,519.0 578.0,495.4 578.6,518.0 579.2,517.1 579.8,453.6 580.4,495.8 581.0,497.4 581.6,456.1 582.2,474.8 582.8,487.3 583.4,503.2 584.0,499.2 584.6,525.6 585.2,488.0 585.8,505.1 586.4,490.7 587.0,491.5 587.6,472.5 588.2,461.7 588.8,464.6 589.4,491.2 590.0,499.7 590.6,486.0 591.2,483.0 591.8,464.7 592.4,492.6 593.0,488.6 593.6,463.3 594.2,467.6 594.8,441.1 595.4,483.4 596.0,473.3 596.6,460.0 597.2,464.7 597.8,463.3 598.4,450.5 599.0,437.9 599.6,435.5 600.2,427.7 600.8,454.9 601.4,476.4 602.0,422.7 602.6,445.4 603.2,447.3 603.8,426.8 604.4,441.0 605.0,421.7 605.6,467.4 606.2,424.9 606.8,432.7 607.4,438.9 608.0,421.9 608.6,401.3 609.2,416.9 609.8,433.1 610.4,419.5 611.0,422.1 611.6,401.9 612.2,417.3 612.8,423.8 613.4,412.1 614.0,437.0 614.6,401.9 615.2,376.0 615.8,380.7 616.4,418.9 617.0,399.4 617.6,413.1 618.2,403.1 618.8,442.2 619.4,411.2 620.0,385.0 620.6,392.7 621.2,402.9 621.8,366.3 622.4,404.8 623.0,417.7 623.6,394.2 624.2,374.5 624.8,380.4 625.4,339.9 626.0,373.3 626.6,361.7 627.2,370.4 627.8,352.2 628.4,370.3 629.0,382.7 629.6,342.4 630.2,375.8 630.8,328.5 631.4,324.3 632.0,355.0 632.6,355.6 633.2,361.1 633.8,326.5 634.4,350.4 635.0,352.1 635.6,368.9 636.2,345.9 636.8,354.9 637.4,329.4 638.0,341.0 638.6,335.7 639.2,364.7 639.8,324.8 640.4,326.3 641.0,348.3 641.6,367.2 642.2,343.4 642.8,341.2 643.4,329.8 644.0,352.5 644.6,342.8 645.2,361.7 645.8,337.8 646.4,316.0 647.0,321.5 647.6,313.8 648.2,308.7 648.8,349.7 649.4,341.4 650.0,306.6 650.6,356.1 651.2,329.7 651.8,308.8 652.4,330.4 653.0,321.9 653.6,309.1 654.2,288.4 654.8,320.7 655.4,324.0 656.0,274.3 656.6,326.3 657.2,326.2 657.8,306.6 658.4,315.3 659.0,307.4 659.6,296.6 660.2,303.5 660.8,331.8 661.4,282.3 662.0,310.2 662.6,308.1 663.2,291.5 663.8,294.9 664.4,277.1 665.0,285.5 665.6,299.6 666.2,304.0 666.8,281.5 667.4,350.0 668.0,285.2 668.6,296.5 669.2,289.3 669.8,278.2 670.4,314.5 671.0,282.0 671.6,313.4 672.2,309.1 672.8,269.1 673.4,305.4 674.0,274.3 674.6,334.1 675.2,277.2 675.8,266.3 676.4,213.5 677.0,258.1 677.6,270.0 678.2,243.4 678.8,256.3 679.4,265.0 680.0,269.2 680.6,302.1 681.2,243.8 681.8,263.8 682.4,255.5 683.0,244.3 683.6,247.9 684.2,253.6 684.8,295.7 685.4,264.9 686.0,257.7 686.6,278.1 687.2,271.1 687.8,261.0 688.4,271.4 689.0,248.1 689.6,286.1 690.2,270.7 690.8,253.5 691.4,237.7 692.0,288.1 692.6,260.7 693.2,342.5 693.8,245.1 694.4,272.7 695.0,247.7 695.6,259.8 696.2,270.0 696.8,238.3 697.4,250.7 698.0,254.8 698.6,253.0 699.2,261.3 699.8,268.6 700.4,279.9 701.0,252.2 701.6,239.6 702.2,223.7 702.8,230.2 703.4,233.2 704.0,268.6 704.6,234.3 705.2,216.3 705.8,251.3 706.4,222.6 707.0,222.3 707.6,231.7 708.2,253.5 708.8,186.9 709.4,211.0 710.0,235.3 710.6,223.6 711.2,212.7 711.8,217.9 712.4,254.7 713.0,217.3 713.6,239.3 714.2,239.8 714.8,214.1 715.4,230.7 716.0,211.9 716.6,207.6 717.2,173.8 717.8,235.2 718.4,208.8 719.0,204.8 719.6,192.3 720.2,286.9 720.8,243.2 721.4,207.2 722.0,197.8 722.6,180.2 723.2,216.4 723.8,215.7 724.4,180.7 725.0,232.2 725.6,223.8 726.2,188.0 726.8,195.7 727.4,189.1 728.0,212.6 728.6,202.6 729.2,171.7 729.8,264.9 730.4,210.8 731.0,229.7 731.6,229.2 732.2,198.9 732.8,209.8 733.4,217.5 734.0,217.9 734.6,198.4 735.2,188.7 735.8,201.8 736.4,184.3 737.0,189.0 737.6,160.0 738.2,201.6 738.8,178.4 739.4,187.8 740.0,196.8 740.6,205.2 741.2,237.5 741.8,202.5 742.4,169.0 743.0,203.3 743.6,185.5 744.2,205.9 744.8,183.4 745.4,182.9 746.0,187.0 746.6,184.6 747.2,160.8 747.8,183.9 748.4,197.5 749.0,222.7 749.6,192.1 750.2,190.8 750.8,210.7 751.4,210.1 752.0,232.3 752.6,211.8 753.2,199.4 753.8,228.1 754.4,263.9 755.0,191.8 755.6,205.3 756.2,168.1 756.8,195.7 757.4,167.6 758.0,199.9 758.6,195.1 759.2,202.2 759.8,204.2 760.4,217.1 761.0,212.5 761.6,197.2 762.2,183.6 762.8,236.0 763.4,271.2 764.0,203.7 764.6,225.3 765.2,187.5 765.8,188.7 766.4,211.6 767.0,251.4 767.6,202.1 768.2,206.9 768.8,259.4 769.4,195.6 770.0,238.5 770.6,235.8 771.2,222.1 771.8,230.6 772.4,296.5 773.0,216.5 773.6,226.2 774.2,228.3 774.8,225.8 775.4,222.0 776.0,279.8 776.6,241.9 777.2,224.9 777.8,228.6 778.4,251.1 779.0,264.0 779.6,222.5 780.2,242.5 780.8,251.9 781.4,268.1 782.0,258.1 782.6,235.8 783.2,301.8 783.8,256.3 784.4,302.8 785.0,333.8 785.6,252.7 786.2,246.7 786.8,280.4 787.4,256.0 788.0,255.3 788.6,252.7 789.2,307.9 789.8,256.0 790.4,253.9 791.0,261.3 791.6,257.9 792.2,271.0 792.8,265.1 793.4,262.3 794.0,286.9 794.6,267.5 795.2,292.7 795.8,308.7 796.4,273.1 797.0,272.6 797.6,283.4 798.2,303.4 798.8,280.5 799.4,285.6 800.0,282.9 800.6,292.8 801.2,302.6 801.8,282.7 802.4,285.4 803.0,291.0 803.6,287.1 804.2,299.9 804.8,308.4 805.4,295.6 806.0,293.6 806.6,294.1 807.2,346.4 807.8,325.1 808.4,297.1 809.0,300.6 809.6,355.9 810.2,348.2 810.8,314.3 811.4,342.5 812.0,305.8 812.6,316.5 813.2,356.0 813.8,309.3 814.4,317.6 815.0,343.8 815.6,354.4 816.2,324.6 816.8,337.4 817.4,371.9 818.0,332.2 818.6,329.0 819.2,338.6 819.8,339.1 820.4,375.3 821.0,354.0 821.6,344.5 822.2,409.2 822.8,351.9 823.4,368.9 824.0,376.8 824.6,382.5 825.2,375.7 825.8,384.7 826.4,374.5 827.0,371.0 827.6,380.0 828.2,385.1 828.8,389.0 829.4,396.8 830.0,394.3 830.6,430.0 831.2,438.7 831.8,397.3 832.4,411.9 833.0,411.5 833.6,405.4 834.2,429.9 834.8,421.4 835.4,425.5 836.0,427.1 836.6,455.3 837.2,461.2 837.8,444.5 838.4,455.7 839.0,444.2 839.6,450.5 840.2,447.4 840.8,454.6 841.4,450.7 842.0,467.7 842.6,495.6 843.2,473.2 843.8,493.2 844.4,524.8 845.0,468.8 845.6,481.8 846.2,482.7 846.8,486.7 847.4,480.7 848.0,496.5 848.6,497.9 849.2,499.7 849.8,504.5 850.4,506.3 851.0,502.5 851.6,533.4 852.2,516.8 852.8,517.3 853.4,529.2 854.0,524.4 854.6,521.5 855.2,547.4 855.8,529.3 856.4,537.7 857.0,543.3 857.6,565.7 858.2,565.8 858.8,552.3 859.4,549.6 860.0,553.7 860.6,574.7 861.2,588.1 861.8,579.9 862.4,563.7 863.0,584.1 863.6,569.9 864.2,572.5 864.8,575.6 865.4,587.8 866.0,585.8 866.6,598.8 867.2,605.7 867.8,597.1 868.4,577.6 869.0,589.6 869.6,600.1 870.2,600.4 870.8,633.2 871.4,606.0 872.0,608.5 872.6,637.3 873.2,643.2 873.8,616.9 874.4,626.8 875.0,620.0 875.6,623.6 876.2,645.3 876.8,628.2 877.4,647.1 878.0,647.0 878.6,651.1 879.2,655.9 879.8,654.7 880.4,638.8 881.0,651.3 881.6,655.6 882.2,671.3 882.8,660.7 883.4,665.2 884.0,669.4 884.6,688.6 885.2,673.4 885.8,677.0 886.4,690.8 887.0,682.0 887.6,697.9 888.2,693.1 888.8,693.7 889.4,700.0 890.0,701.9 890.6,709.4 891.2,714.7 891.8,729.1" stroke="#f00" stroke-width="0.75"/>
<polyline points="891.2,714.7 891.8,729.1 892.4,717.5 893.0,722.7 893.6,722.6 894.2,727.0 894.8,740.1 895.4,729.0 896.0,742.3 896.6,738.0 897.2,742.7 897.8,747.8 898.4,762.7 899.0,752.4 899.6,752.1 900.2,758.1 900.8,758.0 901.4,759.9 902.0,764.4 902.6,779.6 903.2,768.5 903.8,771.0 904.4,769.6 905.0,774.2 905.6,773.4 906.2,785.0 906.8,780.2 907.4,794.5 908.0,821.7 908.6,789.2 909.2,802.7 909.8,798.5 910.4,797.4 911.0,799.8 911.6,808.1 912.2,816.7 912.8,814.6 913.4,809.9 914.0,813.4 914.6,817.4 915.2,829.4 915.8,824.7 916.4,827.5 917.0,843.5 917.6,829.9 918.2,832.4 918.8,834.5 919.4,834.5 920.0,842.2 920.6,844.0 921.2,849.5 921.8,844.1 922.4,846.7 923.0,860.9 923.6,853.9 924.2,861.9 924.8,854.9 925.4,859.2 926.0,858.3 926.6,863.8 927.2,863.5 927.8,869.1 928.4,874.1 929.0,874.0 929.6,870.3 930.2,879.6 930.8,879.3 931.4,876.8 932.0,880.5 932.6,883.9 933.2,889.0 933.8,888.0 934.4,889.0 935.0,894.4 935.6,896.2 936.2,908.9 936.8,898.5 937.4,913.4 938.0,912.0 938.6,907.7 939.2,915.7 939.8,911.0 940.4,920.9 941.0,913.3 941.6,917.0 942.2,917.8 942.8,919.3 943.4,922.5 944.0,924.1 944.6,929.0 945.2,933.7 945.8,930.7 946.4,933.1 947.0,935.6 947.6,935.5 948.2,939.9 948.8,941.0 949.4,942.9 950.0,944.0 950.6,945.3 951.2,948.3 951.8,951.7 952.4,956.9 953.0,957.9 953.6,960.6 954.2,958.8 954.8,963.0 955.4,960.8 956.0,964.5 956.6,967.0 957.2,973.7 957.8,967.9 958.4,967.9 959.0,974.3 959.6,971.3 960.2,973.3 960.8,974.7 961.4,975.8 962.0,981.6 962.6,981.1 963.2,980.2 963.8,982.7 964.4,983.5 965.0,987.2 965.6,986.9 966.2,988.2 966.8,989.4 967.4,991.2 968.0,993.9 968.6,994.2 969.2,996.1 969.8,998.7 970.4,1004.5 971.0,1002.5 971.6,1000.5 972.2,1003.0 972.8,1004.8 973.4,1007.2 974.0,1011.3 974.6,1012.5 975.2,1008.7 975.8,1012.9 976.4,1013.9 977.0,1016.0 977.6,1019.2 978.2,1017.5 978.8,1021.5 979.4,1020.1 980.0,1022.3 980.6,1024.3 981.2,1029.1 981.8,1026.1 982.4,1027.1 983.0,1030.3 983.6,1030.2 984.2,1034.4 984.8,1032.9 985.4,1034.1 986.0,1037.8 986.6,1037.2 987.2,1039.9 987.8,1039.2 988.4,1043.4 989.0,1042.0 989.6,1044.7 990.2,1044.4 990.8,1045.4 991.4,1047.1 992.0,1048.6 992.6,1051.7 993.2,1051.2 993.8,1052.8 994.4,1053.9 995.0,1058.2 995.6,1055.1 996.2,1059.6 996.8,1057.5 997.4,1059.0 998.0,1059.6 998.6,1062.2 999.2,1061.5 999.8,1062.5 1000.4,1063.8 1001.0,1064.6 1001.6,1066.7 1002.2,1067.9 1002.8,1067.7 1003.4,1069.7 1004.0,1069.6 1004.6,1070.7 1005.2,1071.7 1005.8,1074.5 1006.4,1073.5 1007.0,1074.0 1007.6,1075.1 1008.2,1077.3 1008.8,1076.7 1009.4,1077.8 1010.0,1078.7 1010.6,1079.1 1011.2,1080.3 1011.8,1082.9 1012.4,1082.2 1013.0,1082.6 1013.6,1084.2 1014.2,1084.8 1014.8,1086.8 1015.4,1085.8 1016.0,1086.6 1016.6,1087.5 1017.2,1088.1 1017.8,1089.0 1018.4,1089.6 1019.0,1090.3 1019.6,1090.8 1020.2,1091.7 1020.8,1092.3 1021.4,1093.1 1022.0,1093.8 1022.6,1095.0 1023.2,1095.9 1023.8,1095.8 1024.4,1097.1 1025.0,1097.9 1025.6,1098.0 1026.2,1098.4 1026.8,1099.0 1027.4,1100.5 1028.0,1101.2 1028.6,1101.5 1029.2,1101.8 1029.8,1103.4 1030.4,1103.9 1031.0,1103.9 1031.6,1104.5 1032.2,1104.9 1032.8,1106.6 1033.4,1106.2 1034.0,1107.4 1034.6,1108.0 1035.2,1108.3 1035.8,1109.6 1036.4,1109.4 1037.0,1110.4 1037.6,1111.1 1038.2,1111.4 1038.8,1111.8 1039.4,1113.0 1040.0,1113.2 1040.6,1113.6 1041.2,1114.2 1041.8,1114.8 1042.4,1116.3 1043.0,1116.0 1043.6,1116.5 1044.2,1117.0 1044.8,1117.5 1045.4,1118.0 1046.0,1118.8 1046.6,1119.3 1047.2,1119.8 1047.8,1120.3 1048.4,1120.9 1049.0,1121.4 1049.6,1121.9 1050.2,1122.6 1050.8,1123.1 1051.4,1123.6 1052.0,1124.3 1052.6,1124.6 1053.2,1125.5 1053.8,1125.6 1054.4,1126.3 1055.0,1126.8 1055.6,1127.1 1056.2,1127.7 1056.8,1127.9 1057.4,1128.5 1058.0,1129.0 1058.6,1129.5 1059.2,1130.1 1059.8,1130.4 1060.4,1131.1 1061.0,1131.4 1061.6,1131.8 1062.2,1132.3 1062.8,1132.7 1063.4,1133.1 1064.0,1134.0 1064.6,1133.9 1065.2,1134.4 1065.8,1135.0 1066.4,1135.3 1067.0,1135.9 1067.6,1136.1 1068.2,1136.3 1068.8,1136.8 1069.4,1137.1 1070.0,1137.7 1070.6,1138.2 1071.2,1138.3 1071.8,1138.8 1072.4,1139.0 1073.0,1139.3 1073.6,1139.7 1074.2,1140.0 1074.8,1140.4 1075.4,1140.8 1076.0,1141.3 1076.6,1141.7 1077.2,1141.8 1077.8,1142.2 1078.4,1142.5 1079.0,1142.9 1079.6,1143.0 1080.2,1143.4 1080.8,1144.0 1081.4,1144.0 1082.0,1144.4 1082.6,1144.9 1083.2,1144.9 1083.8,1145.2 1084.4,1145.6 1085.0,1145.8 1085.6,1146.1 1086.2,1146.4 1086.8,1146.7 1087.4,1147.1 1088.0,1147.3 1088.6,1147.5 1089.2,1147.8 1089.8,1148.0 1090.4,1148.3 1091.0,1148.5 1091.6,1148.8 1092.2,1149.1 1092.8,1149.3 1093.4,1149.6 1094.0,1149.8 1094.6,1150.0 1095.2,1150.4 1095.8,1150.5 1096.4,1150.9 1097.0,1151.0 1097.6,1151.4 1098.2,1151.5 1098.8,1151.7 1099.4,1151.9 1100.0,1152.1 1100.6,1152.4 1101.2,1152.6 1101.8,1152.7 1102.4,1152.9 1103.0,1153.2 1103.6,1153.3 1104.2,1153.6 1104.8,1153.8 1105.4,1154.0 1106.0,1154.2 1106.6,1154.4 1107.2,1154.6 1107.8,1154.7 1108.4,1154.9 1109.0,1155.1 1109.6,1155.4 1110.2,1155.5 1110.8,1155.7 1111.4,1155.9 1112.0,1156.1 1112.6,1156.2 1113.2,1156.4 1113.8,1156.5 1114.4,1156.8 1115.0,1157.0 1115.6,1157.1 1116.2,1157.2 1116.8,1157.4 1117.4,1157.6 1118.0,1157.8 1118.6,1157.9 1119.2,1158.1 1119.8,1158.2 1120.4,1158.4 1121.0,1158.6 1121.6,1158.8 1122.2,1158.9 1122.8,1159.1 1123.4,1159.2 1124.0,1159.3 1124.6,1159.5 1125.2,1159.7 1125.8,1159.8 1126.4,1159.9 1127.0,1160.1 1127.6,1160.3 1128.2,1160.4 1128.8,1160.6 1129.4,1160.7 1130.0,1160.8 1130.6,1161.0 1131.2,1161.1 1131.8,1161.2 1132.4,1161.4 1133.0,1161.5 1133.6,1161.7 1134.2,1161.8 1134.8,1161.9 1135.4,1162.0 1136.0,1162.2 1136.6,1162.3 1137.2,1162.4 1137.8,1162.5 1138.4,1162.6 1139.0,1162.7 1139.6,1162.8 1140.2,1163.0 1140.8,1163.1 1141.4,1163.2 1142.0,1163.3 1142.6,1163.4 1143.2,1163.5 1143.8,1163.6 1144.4,1163.7 1145.0,1163.8 1145.6,1163.9 1146.2,1164.0 1146.8,1164.1 1147.4,1164.2 1148.0,1164.3 1148.6,1164.4 1149.2,1164.5 1149.8,1164.5 1150.4,1164.6 1151.0,1164.7 1151.6,1164.8 1152.2,1164.9 1152.8,1165.0 1153.4,1165.1 1154.0,1165.1 1154.6,1165.2 1155.2,1165.3 1155.8,1165.4 1156.4,1165.4 1157.0,1165.5 1157.6,1165.6 1158.2,1165.7 1158.8,1165.7 1159.4,1165.8 1160.0,1165.9 1160.6,1166.0 1161.2,1166.0 1161.8,1166.1 1162.4,1166.2 1163.0,1166.2 1163.6,1166.3 1164.2,1166.4 1164.8,1166.4 1165.4,1166.5 1166.0,1166.6 1166.6,1166.6 1167.2,1166.7 1167.8,1166.7 1168.4,1166.8 1169.0,1166.8 1169.6,1166.9 1170.2,1167.0 1170.8,1167.0 1171.4,1167.1 1172.0,1167.1 1172.6,1167.2 1173.2,1167.2 1173.8,1167.3 1174.4,1167.3 1175.0,1167.4 1175.6,1167.4 1176.2,1167.5 1176.8,1167.5 1177.4,1167.6 1178.0,1167.6 1178.6,1167.6 1179.2,1167.7 1179.8,1167.7 1180.4,1167.8 1181.0,1167.8 1181.6,1167.9 1182.2,1167.9 1182.8,1167.9 1183.4,1168.0 1184.0,1168.0 1184.6,1168.0 1185.2,1168.1 1185.8,1168.1 1186.4,1168.1 1187.0,1168.2 1187.6,1168.2 1188.2,1168.3 1188.8,1168.3 1189.4,1168.3 1190.0,1168.4 1190.6,1168.4 1191.2,1168.4 1191.8,1168.4 1192.4,1168.5 1193.0,1168.5 1193.6,1168.5 1194.2,1168.6 1194.8,1168.6 1195.4,1168.6 1196.0,1168.7 1196.6,1168.7 1197.2,1168.7 1197.8,1168.8 1198.4,1168.8 1199.0,1168.8 1199.6,1168.8 1200.2,1168.9 1200.8,1168.9 1201.4,1168.9 1202.0,1169.0 1202.6,1169.0 1203.2,1169.0 1203.8,1169.1 1204.4,1169.1 1205.0,1169.1 1205.6,1169.1 1206.2,1169.2 1206.8,1169.2 1207.4,1169.2 1208.0,1169.3 1208.6,1169.3 1209.2,1169.3 1209.8,1169.4 1210.4,1169.4 1211.0,1169.4 1211.6,1169.4 1212.2,1169.5 1212.8,1169.5 1213.4,1169.5 1214.0,1169.6 1214.6,1169.6 1215.2,1169.6 1215.8,1169.7 1216.4,1169.7 1217.0,1169.7 1217.6,1169.7 1218.2,1169.8 1218.8,1169.8 1219.4,1169.8 1220.0,1169.8 1220.6,1169.9 1221.2,1169.9 1221.8,1169.9 1222.4,1170.0 1223.0,1170.0 1223.6,1170.0 1224.2,1170.0 1224.8,1170.0 1225.4,1170.1 1226.0,1170.1 1226.6,1170.1 1227.2,1170.1 1227.8,1170.2 1228.4,1170.2 1229.0,1170.2 1229.6,1170.2 1230.2,1170.2 1230.8,1170.2 1231.4,1170.3" stroke="#f00" stroke-width="1.2"/>
<polyline points="381.0,1171.0 381.6,1171.0 382.2,1171.0 382.8,1171.0 383.4,1171.0 384.0,1171.0 384.6,1171.0 385.2,1171.0 385.8,1171.0 386.4,1171.0 387.0,1171.0 387.6,1171.0 388.2,1171.0 388.8,1171.0 389.4,1171.0 390.0,1171.0 390.6,1171.0 391.2,1171.0 391.8,1171.0 392.4,1171.0 393.0,1171.0 393.6,1171.0 394.2,1171.0 394.8,1171.0 395.4,1171.0 396.0,1171.0 396.6,1171.0 397.2,1171.0 397.8,1171.0 398.4,1171.0 399.0,1171.0 399.6,1171.0 400.2,1171.0 400.8,1171.0 401.4,1171.0 402.0,1171.0 402.6,1171.0 403.2,1171.0 403.8,1171.0 404.4,1171.0 405.0,1171.0 405.6,1171.0 406.2,1171.0 406.8,1171.0 407.4,1171.0 408.0,1171.0 408.6,1171.0 409.2,1171.0 409.8,1171.0 410.4,1171.0 411.0,1171.0 411.6,1171.0 412.2,1171.0 412.8,1171.0 413.4,1171.0 414.0,1170.9 414.6,1170.9 415.2,1170.9 415.8,1170.9 416.4,1170.9 417.0,1170.9 417.6,1170.9 418.2,1170.9 418.8,1170.9 419.4,1170.9 420.0,1170.9 420.6,1170.9 421.2,1170.9 421.8,1170.9 422.4,1170.9 423.0,1170.9 423.6,1170.9 424.2,1170.8 424.8,1170.8 425.4,1170.8 426.0,1170.7 426.6,1170.7 427.2,1170.6 427.8,1170.6 428.4,1170.5 429.0,1170.4 429.6,1170.3 430.2,1170.2 430.8,1170.1 431.4,1169.9 432.0,1169.8 432.6,1169.7 433.2,1169.5 433.8,1169.4 434.4,1169.2 435.0,1169.0 435.6,1168.8 436.2,1168.7 436.8,1168.5 437.4,1168.2 438.0,1168.0 438.6,1167.8 439.2,1167.6 439.8,1167.3 440.4,1167.1 441.0,1166.8 441.6,1166.5 442.2,1166.3 442.8,1166.0 443.4,1165.7 444.0,1165.5 444.6,1165.2 445.2,1164.9 445.8,1164.6 446.4,1164.4 447.0,1164.1 447.6,1163.9 448.2,1163.5 448.8,1163.3 449.4,1163.0 450.0,1162.7 450.6,1162.4 451.2,1162.1 451.8,1161.8 452.4,1161.4 453.0,1161.1 453.6,1160.7 454.2,1160.4 454.8,1160.0 455.4,1159.6 456.0,1159.1 456.6,1158.7 457.2,1158.2 457.8,1157.8 458.4,1157.3 459.0,1156.8 459.6,1156.2 460.2,1155.7 460.8,1155.1 461.4,1154.7 462.0,1154.1 462.6,1153.4 463.2,1152.8 463.8,1152.2 464.4,1151.5 465.0,1150.9 465.6,1150.3 466.2,1149.8 466.8,1148.9 467.4,1148.2 468.0,1147.5 468.6,1146.7 469.2,1146.2 469.8,1145.5 470.4,1144.6 471.0,1143.9 471.6,1143.1 472.2,1142.2 472.8,1141.2 473.4,1140.4 474.0,1139.5 474.6,1138.4 475.2,1137.4 475.8,1136.2 476.4,1135.0 477.0,1133.9 477.6,1132.3 478.2,1130.8 478.8,1129.4 479.4,1127.7 480.0,1126.2 480.6,1123.6 481.2,1122.3 481.8,1120.1 482.4,1118.3 483.0,1116.5 483.6,1114.6 484.2,1112.6 484.8,1110.4 485.4,1108.9 486.0,1106.2 486.6,1104.3 487.2,1102.7 487.8,1100.0 488.4,1100.3 489.0,1096.9 489.6,1095.4 490.2,1092.4 490.8,1090.2 491.4,1088.4 492.0,1086.4 492.6,1083.5 493.2,1081.9 493.8,1079.1 494.4,1077.7 495.0,1073.7 495.6,1072.2 496.2,1068.5 496.8,1064.9 497.4,1063.1 498.0,1060.0 498.6,1058.4 499.2,1056.5 499.8,1053.2 500.4,1051.6 501.0,1049.3 501.6,1045.5 502.2,1042.7 502.8,1039.3 503.4,1035.5 504.0,1035.2 504.6,1029.6 505.2,1029.5 505.8,1025.9 506.4,1024.4 507.0,1020.0 507.6,1016.0 508.2,1014.6 508.8,1009.6 509.4,1007.9 510.0,1005.2 510.6,1001.9 511.2,998.5 511.8,994.7 512.4,992.6 513.0,986.2 513.6,986.3 514.2,981.3 514.8,982.1 515.4,979.1 516.0,969.6 516.6,970.4 517.2,965.8 517.8,958.5 518.4,960.2 519.0,953.4 519.6,947.8 520.2,947.3 520.8,943.7 521.4,940.5 522.0,933.4 522.6,934.0 523.2,930.5 523.8,921.7 524.4,919.1 525.0,916.8 525.6,910.1 526.2,914.5 526.8,906.3 527.4,899.0 528.0,893.6 528.6,894.6 529.2,905.6 529.8,887.2 530.4,884.7 531.0,882.6 531.6,877.3 532.2,882.0 532.8,866.8 533.4,869.7 534.0,863.9 534.6,861.8 535.2,850.9 535.8,857.9 536.4,845.9 537.0,841.6 537.6,832.4 538.2,824.7 538.8,827.8 539.4,824.0 540.0,817.4 540.6,813.9 541.2,809.6 541.8,797.5 542.4,796.4 543.0,790.2 543.6,781.4 544.2,781.7 544.8,780.3 545.4,770.3 546.0,762.9 546.6,764.8 547.2,767.5 547.8,751.4 548.4,748.1 549.0,743.8 549.6,748.0 550.2,725.3 550.8,734.8 551.4,736.0 552.0,719.1 552.6,729.8 553.2,719.4 553.8,707.9" stroke="#00f" stroke-width="1.2"/>
<polyline points="553.2,719.4 553.8,707.9 554.4,708.5 555.0,692.0 555.6,694.1 556.2,706.4 556.8,682.3 557.4,711.0 558.0,678.6 558.6,681.9 559.2,670.0 559.8,647.5 560.4,655.5 561.0,656.7 561.6,641.1 562.2,634.6 562.8,643.8 563.4,630.5 564.0,616.7 564.6,620.4 565.2,629.0 565.8,612.4 566.4,620.2 567.0,620.9 567.6,602.8 568.2,586.9 568.8,580.5 569.4,588.0 570.0,592.4 570.6,584.9 571.2,580.9 571.8,567.1 572.4,570.8 573.0,559.4 573.6,557.4 574.2,544.2 574.8,538.1 575.4,546.4 576.0,537.0 576.6,535.8 577.2,557.7 577.8,539.6 578.4,569.8 579.0,545.9 579.6,526.3 580.2,539.3 580.8,532.1 581.4,517.8 582.0,535.0 582.6,502.2 583.2,482.0 583.8,531.9 584.4,496.3 585.0,541.9 585.6,489.0 586.2,487.0 586.8,516.1 587.4,481.6 588.0,493.7 588.6,505.7 589.2,486.5 589.8,481.1 590.4,480.4 591.0,486.7 591.6,463.3 592.2,478.3 592.8,482.4 593.4,494.8 594.0,458.1 594.6,448.0 595.2,466.6 595.8,449.3 596.4,459.4 597.0,451.0 597.6,477.6 598.2,435.3 598.8,439.0 599.4,404.5 600.0,412.2 600.6,454.6 601.2,421.7 601.8,418.8 602.4,408.9 603.0,431.1 603.6,425.3 604.2,400.9 604.8,424.2 605.4,415.6 606.0,419.8 606.6,396.8 607.2,428.1 607.8,405.9 608.4,395.0 609.0,385.9 609.6,386.7 610.2,399.9 610.8,379.8 611.4,396.9 612.0,386.2 612.6,394.7 613.2,383.4 613.8,366.8 614.4,334.8 615.0,366.1 615.6,370.8 616.2,357.9 616.8,361.2 617.4,341.9 618.0,340.5 618.6,328.6 619.2,363.3 619.8,341.2 620.4,328.0 621.0,311.7 621.6,326.2 622.2,353.0 622.8,334.5 623.4,312.6 624.0,346.7 624.6,344.8 625.2,335.4 625.8,330.3 626.4,334.7 627.0,322.6 627.6,324.8 628.2,296.4 628.8,334.0 629.4,310.5 630.0,340.0 630.6,267.8 631.2,314.0 631.8,317.3 632.4,292.6 633.0,305.1 633.6,308.8 634.2,304.3 634.8,283.1 635.4,288.7 636.0,307.9 636.6,311.1 637.2,288.7 637.8,286.9 638.4,287.8 639.0,301.5 639.6,262.5 640.2,256.2 640.8,281.1 641.4,237.4 642.0,254.9 642.6,276.6 643.2,282.6 643.8,252.9 644.4,286.0 645.0,204.9 645.6,278.9 646.2,238.5 646.8,219.3 647.4,277.1 648.0,256.5 648.6,248.0 649.2,253.4 649.8,277.9 650.4,258.3 651.0,257.7 651.6,276.9 652.2,242.5 652.8,246.0 653.4,243.9 654.0,274.9 654.6,270.5 655.2,275.1 655.8,249.1 656.4,245.8 657.0,264.1 657.6,239.3 658.2,261.9 658.8,259.0 659.4,230.8 660.0,241.8 660.6,240.3 661.2,275.1 661.8,290.9 662.4,238.3 663.0,239.7 663.6,194.6 664.2,242.1 664.8,237.2 665.4,215.8 666.0,251.2 666.6,204.8 667.2,226.2 667.8,236.7 668.4,209.0 669.0,249.5 669.6,252.8 670.2,177.3 670.8,203.4 671.4,254.0 672.0,229.2 672.6,205.5 673.2,217.1 673.8,226.0 674.4,224.8 675.0,243.4 675.6,234.2 676.2,261.0 676.8,279.9 677.4,238.6 678.0,246.0 678.6,250.5 679.2,237.9 679.8,199.3 680.4,240.4 681.0,224.5 681.6,255.0 682.2,224.5 682.8,233.0 683.4,229.0 684.0,255.8 684.6,229.4 685.2,216.9 685.8,228.4 686.4,213.6 687.0,225.6 687.6,222.3 688.2,227.9 688.8,260.7 689.4,214.6 690.0,224.2 690.6,218.9 691.2,236.3 691.8,199.6 692.4,195.7 693.0,222.6 693.6,245.2 694.2,222.8 694.8,214.0 695.4,206.9 696.0,234.4 696.6,281.6 697.2,231.2 697.8,228.8 698.4,234.1 699.0,207.1 699.6,219.9 700.2,215.9 700.8,232.7 701.4,226.6 702.0,203.7 702.6,250.3 703.2,261.9 703.8,223.9 704.4,245.2 705.0,235.2 705.6,245.8 706.2,201.9 706.8,263.0 707.4,222.7 708.0,281.7 708.6,234.3 709.2,225.5 709.8,230.8 710.4,251.4 711.0,217.5 711.6,227.4 712.2,225.6 712.8,202.0 713.4,261.0 714.0,247.4 714.6,236.1 715.2,259.4 715.8,218.7 716.4,236.2 717.0,271.4 717.6,257.4 718.2,195.8 718.8,174.8 719.4,219.6 720.0,260.6 720.6,231.5 721.2,236.9 721.8,253.3 722.4,225.1 723.0,246.7 723.6,258.4 724.2,261.7 724.8,259.5 725.4,233.4 726.0,255.5 726.6,238.1 727.2,271.9 727.8,296.7 728.4,234.3 729.0,207.8 729.6,241.8 730.2,257.9 730.8,271.5 731.4,272.8 732.0,238.5 732.6,239.3 733.2,279.1 733.8,235.6 734.4,277.7 735.0,254.1 735.6,288.5 736.2,274.1 736.8,276.8 737.4,295.1 738.0,247.9 738.6,271.7 739.2,267.6 739.8,275.0 740.4,295.4 741.0,267.9 741.6,263.4 742.2,265.2 742.8,272.9 743.4,294.9 744.0,270.6 744.6,332.6 745.2,291.3 745.8,284.6 746.4,274.8 747.0,297.2 747.6,324.7 748.2,279.3 748.8,325.8 749.4,338.6 750.0,311.8 750.6,317.8 751.2,363.2 751.8,339.1 752.4,306.5 753.0,316.4 753.6,317.5 754.2,318.6 754.8,303.5 755.4,342.0 756.0,317.2 756.6,333.4 757.2,330.9 757.8,352.8 758.4,333.9 759.0,332.0 759.6,352.0 760.2,372.5 760.8,342.6 761.4,376.1 762.0,355.2 762.6,347.8 763.2,385.8 763.8,350.3 764.4,400.6 765.0,357.6 765.6,373.1 766.2,356.9 766.8,362.5 767.4,392.8 768.0,381.6 768.6,377.6 769.2,376.2 769.8,391.1 770.4,374.7 771.0,379.7 771.6,389.8 772.2,387.8 772.8,391.8 773.4,399.4 774.0,400.9 774.6,404.3 775.2,439.9 775.8,449.3 776.4,460.0 777.0,417.5 777.6,413.6 778.2,403.2 778.8,423.8 779.4,414.6 780.0,427.5 780.6,447.6 781.2,465.0 781.8,455.8 782.4,429.7 783.0,452.1 783.6,440.5 784.2,462.1 784.8,449.4 785.4,467.0 786.0,498.2 786.6,472.4 787.2,498.2 787.8,464.4 788.4,461.7 789.0,488.2 789.6,497.0 790.2,467.6 790.8,474.9 791.4,467.2 792.0,477.5 792.6,495.5 793.2,483.4 793.8,483.0 794.4,472.1 795.0,497.5 795.6,506.7 796.2,515.3 796.8,503.4 797.4,494.6 798.0,531.4 798.6,506.9 799.2,509.0 799.8,523.3 800.4,502.6 801.0,517.2 801.6,519.4 802.2,528.3 802.8,545.1 803.4,535.0 804.0,520.9 804.6,531.9 805.2,539.5 805.8,541.5 806.4,535.5 807.0,536.4 807.6,563.4 808.2,556.1 808.8,554.4 809.4,548.8 810.0,584.6 810.6,549.5 811.2,565.7 811.8,625.3 812.4,573.6 813.0,583.8 813.6,575.6 814.2,618.9 814.8,582.1 815.4,595.0 816.0,598.6 816.6,589.1 817.2,613.0 817.8,599.4 818.4,606.3 819.0,612.7 819.6,614.5 820.2,630.5 820.8,633.7 821.4,625.4 822.0,627.8 822.6,631.4 823.2,635.4 823.8,657.8 824.4,642.8 825.0,651.4 825.6,650.0 826.2,650.2 826.8,665.7 827.4,656.0 828.0,663.2 828.6,681.2 829.2,665.2 829.8,672.2 830.4,669.5 831.0,676.5 831.6,675.9 832.2,683.0 832.8,685.3 833.4,691.5 834.0,707.9 834.6,698.8 835.2,705.3 835.8,702.2 836.4,704.7 837.0,705.9 837.6,706.0 838.2,716.6" stroke="#00f" stroke-width="0.75"/>
<polyline points="837.6,706.0 838.2,716.6 838.8,732.7 839.4,726.3 840.0,724.2 840.6,743.0 841.2,731.7 841.8,732.8 842.4,732.8 843.0,740.8 843.6,746.3 844.2,765.6 844.8,752.9 845.4,753.6 846.0,757.8 846.6,761.7 847.2,760.3 847.8,768.6 848.4,775.2 849.0,775.1 849.6,779.5 850.2,774.4 850.8,775.9 851.4,791.5 852.0,792.7 852.6,784.1 853.2,791.9 853.8,793.3 854.4,799.3 855.0,799.7 855.6,799.7 856.2,804.7 856.8,807.0 857.4,808.4 858.0,806.6 858.6,806.4 859.2,813.9 859.8,814.3 860.4,823.1 861.0,826.6 861.6,826.2 862.2,825.3 862.8,829.5 863.4,837.8 864.0,832.0 864.6,840.8 865.2,841.9 865.8,841.9 866.4,858.1 867.0,843.9 867.6,852.6 868.2,846.7 868.8,851.4 869.4,853.5 870.0,860.3 870.6,859.0 871.2,863.7 871.8,864.0 872.4,873.6 873.0,879.7 873.6,874.9 874.2,883.8 874.8,881.4 875.4,890.9 876.0,884.4 876.6,883.8 877.2,895.0 877.8,890.9 878.4,891.8 879.0,894.7 879.6,895.5 880.2,899.9 880.8,899.1 881.4,910.1 882.0,909.0 882.6,906.1 883.2,908.3 883.8,911.6 884.4,911.6 885.0,916.0 885.6,918.0 886.2,917.8 886.8,921.0 887.4,925.3 888.0,930.2 888.6,932.3 889.2,929.2 889.8,933.7 890.4,931.9 891.0,936.0 891.6,935.4 892.2,940.8 892.8,939.0 893.4,941.3 894.0,944.4 894.6,948.1 895.2,946.8 895.8,949.8 896.4,952.8 897.0,955.0 897.6,955.5 898.2,958.6 898.8,960.0 899.4,966.0 900.0,965.6 900.6,964.7 901.2,965.8 901.8,970.1 902.4,974.6 903.0,973.9 903.6,979.6 904.2,976.7 904.8,977.6 905.4,982.4 906.0,982.6 906.6,985.6 907.2,984.6 907.8,987.8 908.4,988.6 909.0,992.4 909.6,991.8 910.2,993.3 910.8,994.9 911.4,999.4 912.0,998.3 912.6,998.5 913.2,1000.3 913.8,1000.9 914.4,1009.4 915.0,1002.5 915.6,1005.3 916.2,1008.9 916.8,1011.2 917.4,1010.2 918.0,1013.0 918.6,1015.6 919.2,1015.9 919.8,1015.5 920.4,1019.5 921.0,1018.3 921.6,1024.4 922.2,1019.9 922.8,1023.4 923.4,1022.4 924.0,1023.5 924.6,1026.6 925.2,1026.6 925.8,1029.1 926.4,1029.1 927.0,1033.5 927.6,1032.5 928.2,1033.2 928.8,1035.6 929.4,1037.9 930.0,1037.7 930.6,1040.3 931.2,1043.7 931.8,1043.6 932.4,1044.0 933.0,1045.1 933.6,1047.5 934.2,1047.5 934.8,1047.5 935.4,1050.3 936.0,1051.3 936.6,1055.5 937.2,1054.9 937.8,1055.1 938.4,1056.1 939.0,1058.8 939.6,1059.0 940.2,1060.1 940.8,1061.4 941.4,1062.6 942.0,1063.6 942.6,1064.7 943.2,1066.8 943.8,1068.1 944.4,1066.9 945.0,1070.8 945.6,1069.5 946.2,1071.5 946.8,1071.0 947.4,1072.5 948.0,1073.3 948.6,1074.1 949.2,1075.7 949.8,1076.4 950.4,1076.1 951.0,1077.6 951.6,1079.1 952.2,1079.9 952.8,1080.1 953.4,1081.0 954.0,1081.9 954.6,1082.5 955.2,1083.3 955.8,1085.6 956.4,1085.2 957.0,1086.2 957.6,1086.7 958.2,1088.6 958.8,1089.7 959.4,1089.2 960.0,1090.4 960.6,1090.6 961.2,1092.7 961.8,1092.9 962.4,1092.7 963.0,1095.4 963.6,1094.8 964.2,1095.5 964.8,1096.2 965.4,1096.5 966.0,1097.2 966.6,1098.4 967.2,1098.7 967.8,1099.2 968.4,1101.1 969.0,1100.6 969.6,1101.2 970.2,1101.8 970.8,1103.0 971.4,1103.8 972.0,1104.0 972.6,1105.0 973.2,1104.9 973.8,1105.7 974.4,1106.3 975.0,1107.0 975.6,1107.8 976.2,1107.8 976.8,1110.1 977.4,1109.2 978.0,1110.1 978.6,1111.2 979.2,1111.4 979.8,1111.7 980.4,1111.7 981.0,1112.6 981.6,1113.6 982.2,1113.7 982.8,1114.1 983.4,1114.6 984.0,1115.9 984.6,1116.2 985.2,1116.3 985.8,1117.0 986.4,1117.5 987.0,1117.9 987.6,1118.5 988.2,1119.1 988.8,1119.7 989.4,1120.5 990.0,1120.5 990.6,1121.0 991.2,1121.6 991.8,1121.9 992.4,1122.3 993.0,1123.3 993.6,1123.4 994.2,1123.9 994.8,1124.7 995.4,1124.6 996.0,1125.4 996.6,1125.8 997.2,1126.2 997.8,1126.7 998.4,1126.9 999.0,1127.3 999.6,1127.9 1000.2,1128.3 1000.8,1129.0 1001.4,1129.3 1002.0,1129.6 1002.6,1130.1 1003.2,1130.8 1003.8,1131.2 1004.4,1131.4 1005.0,1131.8 1005.6,1132.1 1006.2,1132.5 1006.8,1133.1 1007.4,1133.3 1008.0,1133.8 1008.6,1134.0 1009.2,1134.4 1009.8,1134.8 1010.4,1135.2 1011.0,1135.9 1011.6,1136.2 1012.2,1136.3 1012.8,1136.6 1013.4,1137.4 1014.0,1137.6 1014.6,1137.7 1015.2,1138.4 1015.8,1138.6 1016.4,1139.1 1017.0,1139.3 1017.6,1139.8 1018.2,1140.0 1018.8,1140.2 1019.4,1140.6 1020.0,1140.9 1020.6,1141.4 1021.2,1141.6 1021.8,1141.9 1022.4,1142.3 1023.0,1142.9 1023.6,1143.1 1024.2,1143.3 1024.8,1143.4 1025.4,1143.8 1026.0,1144.1 1026.6,1144.4 1027.2,1144.5 1027.8,1145.0 1028.4,1145.3 1029.0,1145.5 1029.6,1145.9 1030.2,1146.3 1030.8,1146.4 1031.4,1146.9 1032.0,1147.1 1032.6,1147.3 1033.2,1147.6 1033.8,1147.7 1034.4,1148.1 1035.0,1148.2 1035.6,1148.5 1036.2,1148.9 1036.8,1149.0 1037.4,1149.3 1038.0,1149.6 1038.6,1149.7 1039.2,1150.0 1039.8,1150.3 1040.4,1150.5 1041.0,1150.6 1041.6,1150.9 1042.2,1151.2 1042.8,1151.4 1043.4,1151.5 1044.0,1151.7 1044.6,1152.0 1045.2,1152.2 1045.8,1152.5 1046.4,1152.6 1047.0,1152.9 1047.6,1153.0 1048.2,1153.3 1048.8,1153.6 1049.4,1153.6 1050.0,1153.9 1050.6,1154.1 1051.2,1154.3 1051.8,1154.4 1052.4,1154.6 1053.0,1154.8 1053.6,1155.0 1054.2,1155.2 1054.8,1155.4 1055.4,1155.6 1056.0,1155.8 1056.6,1155.9 1057.2,1156.1 1057.8,1156.3 1058.4,1156.5 1059.0,1156.6 1059.6,1156.8 1060.2,1157.0 1060.8,1157.1 1061.4,1157.3 1062.0,1157.5 1062.6,1157.6 1063.2,1157.8 1063.8,1158.0 1064.4,1158.3 1065.0,1158.3 1065.6,1158.4 1066.2,1158.7 1066.8,1158.9 1067.4,1159.0 1068.0,1159.1 1068.6,1159.3 1069.2,1159.4 1069.8,1159.5 1070.4,1159.7 1071.0,1159.8 1071.6,1160.0 1072.2,1160.2 1072.8,1160.2 1073.4,1160.4 1074.0,1160.6 1074.6,1160.6 1075.2,1160.8 1075.8,1160.9 1076.4,1161.0 1077.0,1161.2 1077.6,1161.3 1078.2,1161.4 1078.8,1161.5 1079.4,1161.7 1080.0,1161.8 1080.6,1161.9 1081.2,1162.0 1081.8,1162.1 1082.4,1162.3 1083.0,1162.3 1083.6,1162.5 1084.2,1162.6 1084.8,1162.7 1085.4,1162.7 1086.0,1162.9 1086.6,1163.0 1087.2,1163.1 1087.8,1163.2 1088.4,1163.3 1089.0,1163.4 1089.6,1163.4 1090.2,1163.6 1090.8,1163.6 1091.4,1163.7 1092.0,1163.8 1092.6,1163.9 1093.2,1164.0 1093.8,1164.1 1094.4,1164.1 1095.0,1164.2 1095.6,1164.3 1096.2,1164.4 1096.8,1164.4 1097.4,1164.5 1098.0,1164.6 1098.6,1164.7 1099.2,1164.8 1099.8,1164.8 1100.4,1164.9 1101.0,1165.0 1101.6,1165.0 1102.2,1165.1 1102.8,1165.2 1103.4,1165.2 1104.0,1165.3 1104.6,1165.4 1105.2,1165.4 1105.8,1165.5 1106.4,1165.6 1107.0,1165.6 1107.6,1165.7 1108.2,1165.7 1108.8,1165.8 1109.4,1165.9 1110.0,1165.9 1110.6,1166.0 1111.2,1166.1 1111.8,1166.1 1112.4,1166.1 1113.0,1166.2 1113.6,1166.2 1114.2,1166.3 1114.8,1166.4 1115.4,1166.4 1116.0,1166.5 1116.6,1166.5 1117.2,1166.6 1117.8,1166.6 1118.4,1166.7 1119.0,1166.7 1119.6,1166.8 1120.2,1166.8 1120.8,1166.8 1121.4,1166.9 1122.0,1166.9 1122.6,1167.0 1123.2,1167.0 1123.8,1167.1 1124.4,1167.1 1125.0,1167.2 1125.6,1167.2 1126.2,1167.3 1126.8,1167.3 1127.4,1167.4 1128.0,1167.4 1128.6,1167.4 1129.2,1167.5 1129.8,1167.5 1130.4,1167.6 1131.0,1167.6 1131.6,1167.7 1132.2,1167.7 1132.8,1167.7 1133.4,1167.8 1134.0,1167.8 1134.6,1167.9 1135.2,1167.9 1135.8,1168.0 1136.4,1168.0 1137.0,1168.0 1137.6,1168.1 1138.2,1168.1 1138.8,1168.1 1139.4,1168.2 1140.0,1168.2 1140.6,1168.3 1141.2,1168.3 1141.8,1168.3 1142.4,1168.4 1143.0,1168.4 1143.6,1168.5 1144.2,1168.5 1144.8,1168.5 1145.4,1168.6 1146.0,1168.6 1146.6,1168.6 1147.2,1168.7 1147.8,1168.7 1148.4,1168.7 1149.0,1168.8 1149.6,1168.8 1150.2,1168.8 1150.8,1168.9 1151.4,1168.9 1152.0,1168.9 1152.6,1169.0 1153.2,1169.0 1153.8,1169.0 1154.4,1169.1 1155.0,1169.1 1155.6,1169.1 1156.2,1169.2 1156.8,1169.2 1157.4,1169.2 1158.0,1169.2 1158.6,1169.3 1159.2,1169.3 1159.8,1169.3 1160.4,1169.3 1161.0,1169.4 1161.6,1169.4 1162.2,1169.4 1162.8,1169.5 1163.4,1169.5 1164.0,1169.5 1164.6,1169.5 1165.2,1169.5 1165.8,1169.6 1166.4,1169.6 1167.0,1169.6 1167.6,1169.6 1168.2,1169.7 1168.8,1169.7 1169.4,1169.7 1170.0,1169.7 1170.6,1169.7 1171.2,1169.8 1171.8,1169.8 1172.4,1169.8 1173.0,1169.8 1173.6,1169.8 1174.2,1169.8 1174.8,1169.9 1175.4,1169.9 1176.0,1169.9 1176.6,1169.9 1177.2,1169.9 1177.8,1170.0 1178.4,1170.0 1179.0,1170.0 1179.6,1170.0 1180.2,1170.0 1180.8,1170.0 1181.4,1170.1 1182.0,1170.1 1182.6,1170.1 1183.2,1170.1 1183.8,1170.1 1184.4,1170.1 1185.0,1170.1 1185.6,1170.2 1186.2,1170.2 1186.8,1170.2 1187.4,1170.2 1188.0,1170.2 1188.6,1170.2 1189.2,1170.3 1189.8,1170.3 1190.4,1170.3 1191.0,1170.3 1191.6,1170.3 1192.2,1170.3 1192.8,1170.3 1193.4,1170.3 1194.0,1170.4 1194.6,1170.4 1195.2,1170.4 1195.8,1170.4 1196.4,1170.4 1197.0,1170.4 1197.6,1170.4 1198.2,1170.5 1198.8,1170.5 1199.4,1170.5 1200.0,1170.5 1200.6,1170.5 1201.2,1170.5 1201.8,1170.5 1202.4,1170.5 1203.0,1170.5 1203.6,1170.6 1204.2,1170.6 1204.8,1170.6 1205.4,1170.6 1206.0,1170.6 1206.6,1170.6 1207.2,1170.6 1207.8,1170.6 1208.4,1170.6 1209.0,1170.7 1209.6,1170.7 1210.2,1170.7 1210.8,1170.7 1211.4,1170.7 1212.0,1170.7 1212.6,1170.7 1213.2,1170.7 1213.8,1170.7 1214.4,1170.7 1215.0,1170.8 1215.6,1170.8 1216.2,1170.8 1216.8,1170.8 1217.4,1170.8 1218.0,1170.8 1218.6,1170.8 1219.2,1170.8 1219.8,1170.8 1220.4,1170.8 1221.0,1170.8 1221.6,1170.8 1222.2,1170.9 1222.8,1170.9 1223.4,1170.9 1224.0,1170.9 1224.6,1170.9 1225.2,1170.9 1225.8,1170.9 1226.4,1170.9 1227.0,1170.9 1227.6,1170.9 1228.2,1170.9 1228.8,1170.9 1229.4,1170.9 1230.0,1170.9 1230.6,1170.9 1231.2,1170.9 1231.8,1170.9" stroke="#00f" stroke-width="1.2"/>

</g>
<g font-size="84">
<text x="279.9" y="1194.3" text-anchor="end">0.0</text><text x="279.9" y="991.2" text-anchor="end">0.2</text><text x="279.9" y="788.1" text-anchor="end">0.4</text><text x="279.9" y="584.9" text-anchor="end">0.6</text><text x="279.9" y="381.8" text-anchor="end">0.8</text><text x="279.9" y="178.7" text-anchor="end">1.0</text><text x="303.0" y="1257.3" text-anchor="middle">400</text><text x="560.6" y="1257.3" text-anchor="middle">500</text><text x="818.2" y="1257.3" text-anchor="middle">600</text><text x="1075.9" y="1257.3" text-anchor="middle">700</text><text x="1333.5" y="1257.3" text-anchor="middle">800</text>
</g>
<line x1="945.8" y1="113.9" x2="1138.2" y2="113.9" stroke="#000" stroke-width="3.6"/>
<line x1="945.8" y1="217.9" x2="1138.2" y2="217.9" stroke="#f00" stroke-width="3.5"/>
<line x1="945.8" y1="321.2" x2="1138.2" y2="321.2" stroke="#00f" stroke-width="4.4"/>
<g font-size="84">
<text transform="translate(1157.8,139.9) scale(1,1.04)">GY1</text>
<text transform="translate(1157.8,244.0) scale(1,1.04)">GY2</text>
<text transform="translate(1157.8,347.9) scale(1,1.04)">GY3</text>
</g>
<text x="495.7 585.3 629.5 676.8 722.9 748.9 792.2 840.9 891.1 918.5 967.9 992.7 1015.0 1064.7" y="1374" font-size="99">Wavelength, nm</text>
<text transform="translate(94.8,900) rotate(-90)" x="18.7 49.8 101.5 128.7 172.0 222.1 262.5 287.2 316.6 366.3 391.3 415.5 458.1 482.0 533.1" y="0" font-size="100">Intensity, a.u.</text>
</svg>
</body></html>
